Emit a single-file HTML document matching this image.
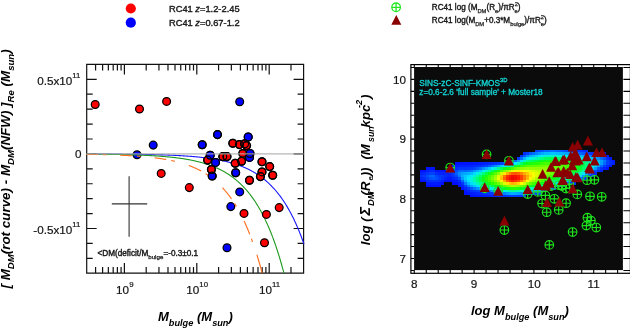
<!DOCTYPE html>
<html><head><meta charset="utf-8"><style>
html,body{margin:0;padding:0;background:#fff;}
svg{display:block;will-change:transform;filter:blur(0.35px);}
text{font-family:"Liberation Sans",sans-serif;}
text{stroke:#1a1a1a;stroke-width:0.2px;}
text.lg{stroke-width:0.4px;}
text.bi{stroke:none;}
tspan.s{stroke-width:0.25px;}
text.cy{stroke:#14d8d8;stroke-width:0.3px;}
.bi{font-weight:bold;font-style:italic;}
</style></head><body>
<svg width="630" height="328" viewBox="0 0 630 328">
<rect width="630" height="328" fill="#fff"/>

<circle cx="130.8" cy="8.5" r="5.1" fill="#ff0000"/>
<circle cx="130.8" cy="22.7" r="5.1" fill="#0000ff"/>
<text class="lg" x="169.0" y="11.6" font-size="9.3" fill="#222">RC41 <tspan font-style="italic">z</tspan>=1.2-2.45</text>
<text class="lg" x="169.0" y="25.6" font-size="9.3" fill="#222">RC41 <tspan font-style="italic">z</tspan>=0.67-1.2</text>
<g stroke="#22e822" stroke-width="1.3" fill="none"><circle cx="396.1" cy="7.3" r="4.3"/><path d="M391.8 7.3H400.4M396.1 3V11.6"/></g>
<path d="M396.3 15L401.3 24.8H391.3Z" fill="#8b0000"/>
<text class="lg" x="431.8" y="9.8" font-size="8.15" fill="#1a1a1a">RC41 log (M<tspan class="s" font-size="5.8" dy="2.8">DM</tspan><tspan dy="-2.8">(R</tspan><tspan class="s" font-size="5.8" dy="3">e</tspan><tspan dy="-3">)/πR</tspan><tspan class="s" font-size="5.8" dy="-3.6">2</tspan><tspan class="s" font-size="5.8" dx="-3.3" dy="6.8">e</tspan><tspan dy="-3.2">)</tspan></text>
<text class="lg" x="431.8" y="23.0" font-size="8.15" fill="#1a1a1a">RC41 log(M<tspan class="s" font-size="5.8" dy="2.8">DM</tspan><tspan dy="-2.8">+0.3*M</tspan><tspan class="s" font-size="5.8" dy="2.8">bulge</tspan><tspan dy="-2.8">)/πR</tspan><tspan class="s" font-size="5.8" dy="-3.6">2</tspan><tspan class="s" font-size="5.8" dx="-3.3" dy="6.8">e</tspan><tspan dy="-3.2">)</tspan></text>
<path d="M86.7 64.4H303.6V273.1H86.7Z M95.59 273.1v-6M95.59 64.4v6 M102.61 273.1v-6M102.61 64.4v6 M108.34 273.1v-6M108.34 64.4v6 M113.19 273.1v-6M113.19 64.4v6 M117.38 273.1v-6M117.38 64.4v6 M121.09 273.1v-6M121.09 64.4v6 M124.40 273.1v-10M124.40 64.4v10 M146.19 273.1v-6M146.19 64.4v6 M158.94 273.1v-6M158.94 64.4v6 M167.99 273.1v-6M167.99 64.4v6 M175.01 273.1v-6M175.01 64.4v6 M180.74 273.1v-6M180.74 64.4v6 M185.59 273.1v-6M185.59 64.4v6 M189.78 273.1v-6M189.78 64.4v6 M193.49 273.1v-6M193.49 64.4v6 M196.80 273.1v-10M196.80 64.4v10 M218.59 273.1v-6M218.59 64.4v6 M231.34 273.1v-6M231.34 64.4v6 M240.39 273.1v-6M240.39 64.4v6 M247.41 273.1v-6M247.41 64.4v6 M253.14 273.1v-6M253.14 64.4v6 M257.99 273.1v-6M257.99 64.4v6 M262.18 273.1v-6M262.18 64.4v6 M265.89 273.1v-6M265.89 64.4v6 M269.20 273.1v-10M269.20 64.4v10 M290.99 273.1v-6M290.99 64.4v6 M86.7 258.34h6M303.6 258.34h-6 M86.7 243.42h6M303.6 243.42h-6 M86.7 228.50h10M303.6 228.50h-10 M86.7 213.58h6M303.6 213.58h-6 M86.7 198.66h6M303.6 198.66h-6 M86.7 183.74h6M303.6 183.74h-6 M86.7 168.82h6M303.6 168.82h-6 M86.7 153.90h10M303.6 153.90h-10 M86.7 138.98h6M303.6 138.98h-6 M86.7 124.06h6M303.6 124.06h-6 M86.7 109.14h6M303.6 109.14h-6 M86.7 94.22h6M303.6 94.22h-6 M86.7 79.30h10M303.6 79.30h-10" fill="none" stroke="#111" stroke-width="1.2"/>
<g stroke="#000" stroke-width="1.25"><circle cx="239.7" cy="101.8" r="3.9" fill="#0000ff"/><circle cx="137.0" cy="154.8" r="3.9" fill="#0000ff"/><circle cx="153.2" cy="145.1" r="3.9" fill="#0000ff"/><circle cx="202.2" cy="144.8" r="3.9" fill="#0000ff"/><circle cx="217.5" cy="134.6" r="3.9" fill="#0000ff"/><circle cx="210.2" cy="155.3" r="3.9" fill="#0000ff"/><circle cx="215.5" cy="162.4" r="3.9" fill="#0000ff"/><circle cx="212.2" cy="176.0" r="3.9" fill="#0000ff"/><circle cx="248.2" cy="137.0" r="3.9" fill="#0000ff"/><circle cx="250.0" cy="153.5" r="3.9" fill="#0000ff"/><circle cx="249.5" cy="157.4" r="3.9" fill="#0000ff"/><circle cx="235.7" cy="172.7" r="3.9" fill="#0000ff"/><circle cx="239.7" cy="191.9" r="3.9" fill="#0000ff"/><circle cx="230.8" cy="206.6" r="3.9" fill="#0000ff"/><circle cx="227.0" cy="247.8" r="3.9" fill="#0000ff"/></g>
<path d="M86.03 153.99 L86.75 153.99 L87.48 153.99 L88.21 153.99 L88.93 154.00 L89.66 154.00 L90.39 154.00 L91.11 154.00 L91.84 154.01 L92.57 154.01 L93.29 154.01 L94.02 154.01 L94.74 154.02 L95.47 154.02 L96.20 154.02 L96.92 154.02 L97.65 154.03 L98.38 154.03 L99.10 154.03 L99.83 154.04 L100.56 154.04 L101.28 154.04 L102.01 154.05 L102.74 154.05 L103.46 154.05 L104.19 154.06 L104.91 154.06 L105.64 154.06 L106.37 154.07 L107.09 154.07 L107.82 154.08 L108.55 154.08 L109.27 154.08 L110.00 154.09 L110.73 154.09 L111.45 154.10 L112.18 154.10 L112.91 154.11 L113.63 154.11 L114.36 154.12 L115.08 154.12 L115.81 154.13 L116.54 154.13 L117.26 154.14 L117.99 154.14 L118.72 154.15 L119.44 154.15 L120.17 154.16 L120.90 154.17 L121.62 154.17 L122.35 154.18 L123.08 154.19 L123.80 154.19 L124.53 154.20 L125.25 154.21 L125.98 154.21 L126.71 154.22 L127.43 154.23 L128.16 154.24 L128.89 154.24 L129.61 154.25 L130.34 154.26 L131.07 154.27 L131.79 154.28 L132.52 154.29 L133.24 154.30 L133.97 154.30 L134.70 154.31 L135.42 154.32 L136.15 154.33 L136.88 154.34 L137.60 154.35 L138.33 154.36 L139.06 154.38 L139.78 154.39 L140.51 154.40 L141.24 154.41 L141.96 154.42 L142.69 154.43 L143.41 154.45 L144.14 154.46 L144.87 154.47 L145.59 154.49 L146.32 154.50 L147.05 154.51 L147.77 154.53 L148.50 154.54 L149.23 154.56 L149.95 154.57 L150.68 154.59 L151.41 154.60 L152.13 154.62 L152.86 154.64 L153.58 154.65 L154.31 154.67 L155.04 154.69 L155.76 154.71 L156.49 154.73 L157.22 154.75 L157.94 154.77 L158.67 154.79 L159.40 154.81 L160.12 154.83 L160.85 154.85 L161.57 154.87 L162.30 154.90 L163.03 154.92 L163.75 154.94 L164.48 154.97 L165.21 154.99 L165.93 155.02 L166.66 155.04 L167.39 155.07 L168.11 155.10 L168.84 155.13 L169.57 155.15 L170.29 155.18 L171.02 155.21 L171.74 155.25 L172.47 155.28 L173.20 155.31 L173.92 155.34 L174.65 155.38 L175.38 155.41 L176.10 155.45 L176.83 155.48 L177.56 155.52 L178.28 155.56 L179.01 155.59 L179.74 155.63 L180.46 155.67 L181.19 155.72 L181.91 155.76 L182.64 155.80 L183.37 155.85 L184.09 155.89 L184.82 155.94 L185.55 155.99 L186.27 156.04 L187.00 156.08 L187.73 156.14 L188.45 156.19 L189.18 156.24 L189.91 156.30 L190.63 156.35 L191.36 156.41 L192.08 156.47 L192.81 156.53 L193.54 156.59 L194.26 156.65 L194.99 156.72 L195.72 156.78 L196.44 156.85 L197.17 156.92 L197.90 156.99 L198.62 157.06 L199.35 157.14 L200.07 157.21 L200.80 157.29 L201.53 157.37 L202.25 157.45 L202.98 157.53 L203.71 157.62 L204.43 157.70 L205.16 157.79 L205.89 157.88 L206.61 157.98 L207.34 158.07 L208.07 158.17 L208.79 158.27 L209.52 158.37 L210.24 158.48 L210.97 158.58 L211.70 158.69 L212.42 158.80 L213.15 158.92 L213.88 159.04 L214.60 159.16 L215.33 159.28 L216.06 159.41 L216.78 159.53 L217.51 159.67 L218.24 159.80 L218.96 159.94 L219.69 160.08 L220.41 160.22 L221.14 160.37 L221.87 160.52 L222.59 160.68 L223.32 160.84 L224.05 161.00 L224.77 161.16 L225.50 161.33 L226.23 161.51 L226.95 161.69 L227.68 161.87 L228.41 162.05 L229.13 162.24 L229.86 162.44 L230.58 162.64 L231.31 162.84 L232.04 163.05 L232.76 163.27 L233.49 163.48 L234.22 163.71 L234.94 163.94 L235.67 164.17 L236.40 164.41 L237.12 164.66 L237.85 164.91 L238.57 165.17 L239.30 165.43 L240.03 165.70 L240.75 165.98 L241.48 166.26 L242.21 166.55 L242.93 166.84 L243.66 167.14 L244.39 167.45 L245.11 167.77 L245.84 168.09 L246.57 168.43 L247.29 168.77 L248.02 169.11 L248.74 169.47 L249.47 169.83 L250.20 170.21 L250.92 170.59 L251.65 170.98 L252.38 171.38 L253.10 171.78 L253.83 172.20 L254.56 172.63 L255.28 173.07 L256.01 173.52 L256.74 173.97 L257.46 174.44 L258.19 174.92 L258.91 175.41 L259.64 175.92 L260.37 176.43 L261.09 176.96 L261.82 177.50 L262.55 178.05 L263.27 178.61 L264.00 179.19 L264.73 179.78 L265.45 180.39 L266.18 181.01 L266.90 181.64 L267.63 182.29 L268.36 182.95 L269.08 183.63 L269.81 184.33 L270.54 185.04 L271.26 185.76 L271.99 186.51 L272.72 187.27 L273.44 188.05 L274.17 188.85 L274.90 189.67 L275.62 190.50 L276.35 191.36 L277.07 192.23 L277.80 193.13 L278.53 194.05 L279.25 194.98 L279.98 195.94 L280.71 196.93 L281.43 197.93 L282.16 198.96 L282.89 200.01 L283.61 201.09 L284.34 202.19 L285.07 203.32 L285.79 204.48 L286.52 205.66 L287.24 206.87 L287.97 208.11 L288.70 209.38 L289.42 210.67 L290.15 212.00 L290.88 213.36 L291.60 214.75 L292.33 216.17 L293.06 217.62 L293.78 219.11 L294.51 220.64 L295.24 222.20 L295.96 223.79 L296.69 225.43 L297.41 227.10 L298.14 228.81 L298.87 230.56 L299.59 232.35 L300.32 234.18 L301.05 236.06 L301.77 237.98 L302.50 239.95 L303.23 241.96 L303.95 244.02" fill="none" stroke="#1a1aff" stroke-width="1.1"/>
<path d="M86.03 154.12 L86.75 154.13 L87.48 154.13 L88.21 154.14 L88.93 154.14 L89.66 154.15 L90.39 154.15 L91.11 154.16 L91.84 154.16 L92.57 154.17 L93.29 154.18 L94.02 154.18 L94.74 154.19 L95.47 154.20 L96.20 154.20 L96.92 154.21 L97.65 154.22 L98.38 154.23 L99.10 154.23 L99.83 154.24 L100.56 154.25 L101.28 154.26 L102.01 154.27 L102.74 154.27 L103.46 154.28 L104.19 154.29 L104.91 154.30 L105.64 154.31 L106.37 154.32 L107.09 154.33 L107.82 154.34 L108.55 154.35 L109.27 154.36 L110.00 154.37 L110.73 154.38 L111.45 154.39 L112.18 154.41 L112.91 154.42 L113.63 154.43 L114.36 154.44 L115.08 154.45 L115.81 154.47 L116.54 154.48 L117.26 154.49 L117.99 154.51 L118.72 154.52 L119.44 154.54 L120.17 154.55 L120.90 154.57 L121.62 154.58 L122.35 154.60 L123.08 154.62 L123.80 154.63 L124.53 154.65 L125.25 154.67 L125.98 154.68 L126.71 154.70 L127.43 154.72 L128.16 154.74 L128.89 154.76 L129.61 154.78 L130.34 154.80 L131.07 154.82 L131.79 154.84 L132.52 154.87 L133.24 154.89 L133.97 154.91 L134.70 154.94 L135.42 154.96 L136.15 154.98 L136.88 155.01 L137.60 155.04 L138.33 155.06 L139.06 155.09 L139.78 155.12 L140.51 155.15 L141.24 155.17 L141.96 155.20 L142.69 155.23 L143.41 155.27 L144.14 155.30 L144.87 155.33 L145.59 155.36 L146.32 155.40 L147.05 155.43 L147.77 155.47 L148.50 155.51 L149.23 155.54 L149.95 155.58 L150.68 155.62 L151.41 155.66 L152.13 155.70 L152.86 155.74 L153.58 155.79 L154.31 155.83 L155.04 155.88 L155.76 155.92 L156.49 155.97 L157.22 156.02 L157.94 156.07 L158.67 156.12 L159.40 156.17 L160.12 156.22 L160.85 156.28 L161.57 156.33 L162.30 156.39 L163.03 156.45 L163.75 156.51 L164.48 156.57 L165.21 156.63 L165.93 156.70 L166.66 156.76 L167.39 156.83 L168.11 156.90 L168.84 156.97 L169.57 157.04 L170.29 157.11 L171.02 157.19 L171.74 157.26 L172.47 157.34 L173.20 157.42 L173.92 157.50 L174.65 157.59 L175.38 157.67 L176.10 157.76 L176.83 157.85 L177.56 157.95 L178.28 158.04 L179.01 158.14 L179.74 158.24 L180.46 158.34 L181.19 158.44 L181.91 158.55 L182.64 158.66 L183.37 158.77 L184.09 158.88 L184.82 159.00 L185.55 159.12 L186.27 159.24 L187.00 159.36 L187.73 159.49 L188.45 159.62 L189.18 159.75 L189.91 159.89 L190.63 160.03 L191.36 160.17 L192.08 160.32 L192.81 160.47 L193.54 160.62 L194.26 160.78 L194.99 160.94 L195.72 161.11 L196.44 161.28 L197.17 161.45 L197.90 161.62 L198.62 161.81 L199.35 161.99 L200.07 162.18 L200.80 162.37 L201.53 162.57 L202.25 162.77 L202.98 162.98 L203.71 163.19 L204.43 163.41 L205.16 163.63 L205.89 163.86 L206.61 164.09 L207.34 164.33 L208.07 164.57 L208.79 164.82 L209.52 165.08 L210.24 165.34 L210.97 165.61 L211.70 165.88 L212.42 166.16 L213.15 166.45 L213.88 166.74 L214.60 167.04 L215.33 167.35 L216.06 167.66 L216.78 167.98 L217.51 168.31 L218.24 168.65 L218.96 169.00 L219.69 169.35 L220.41 169.71 L221.14 170.08 L221.87 170.46 L222.59 170.84 L223.32 171.24 L224.05 171.64 L224.77 172.06 L225.50 172.48 L226.23 172.92 L226.95 173.36 L227.68 173.82 L228.41 174.28 L229.13 174.76 L229.86 175.25 L230.58 175.75 L231.31 176.26 L232.04 176.78 L232.76 177.31 L233.49 177.86 L234.22 178.42 L234.94 178.99 L235.67 179.58 L236.40 180.18 L237.12 180.80 L237.85 181.42 L238.57 182.07 L239.30 182.73 L240.03 183.40 L240.75 184.09 L241.48 184.79 L242.21 185.52 L242.93 186.25 L243.66 187.01 L244.39 187.78 L245.11 188.58 L245.84 189.39 L246.57 190.22 L247.29 191.07 L248.02 191.93 L248.74 192.82 L249.47 193.73 L250.20 194.66 L250.92 195.62 L251.65 196.59 L252.38 197.59 L253.10 198.61 L253.83 199.66 L254.56 200.72 L255.28 201.82 L256.01 202.94 L256.74 204.08 L257.46 205.26 L258.19 206.46 L258.91 207.69 L259.64 208.94 L260.37 210.23 L261.09 211.55 L261.82 212.89 L262.55 214.27 L263.27 215.68 L264.00 217.13 L264.73 218.61 L265.45 220.12 L266.18 221.67 L266.90 223.25 L267.63 224.87 L268.36 226.53 L269.08 228.23 L269.81 229.96 L270.54 231.74 L271.26 233.56 L271.99 235.42 L272.72 237.33 L273.44 239.28 L274.17 241.27 L274.90 243.31 L275.62 245.40 L276.35 247.54 L277.07 249.73 L277.80 251.97 L278.53 254.26 L279.25 256.61 L279.98 259.01 L280.71 261.47 L281.43 263.98 L282.16 266.55 L282.89 269.18 L283.61 271.88 L283.94 273.10" fill="none" stroke="#1e9a1e" stroke-width="1.1"/>
<path d="M86.46 154.35 L86.68 154.35 L86.90 154.35 L87.12 154.36 L87.34 154.36 L87.55 154.36 L87.77 154.37 L87.99 154.37 L88.21 154.37 L88.43 154.38 L88.64 154.38 L88.86 154.38 L89.08 154.39 L89.30 154.39 L89.51 154.39 L89.73 154.40 L89.95 154.40 L90.17 154.40 L90.39 154.41 L90.60 154.41 L90.82 154.41 L91.04 154.42 L91.26 154.42 L91.48 154.42 L91.69 154.43 L91.91 154.43 L92.13 154.43 L92.35 154.44 L92.57 154.44 L92.78 154.45 L93.00 154.45 L93.22 154.45 L93.44 154.46 L93.66 154.46 L93.87 154.47 L94.09 154.47 L94.31 154.47 L94.53 154.48 L94.74 154.48 L94.96 154.49 L95.18 154.49 L95.40 154.49 L95.62 154.50 L95.83 154.50 L96.05 154.51 L96.27 154.51 L96.49 154.51 L96.71 154.52 L96.92 154.52 L97.14 154.53 L97.36 154.53 L97.58 154.54 L97.80 154.54 L98.01 154.54 L98.16 154.55 M103.03 154.66 L103.24 154.66 L103.46 154.67 L103.68 154.67 L103.90 154.68 L104.12 154.68 L104.33 154.69 L104.55 154.69 L104.77 154.70 L104.99 154.70 L105.21 154.71 L105.42 154.72 L105.64 154.72 L105.86 154.73 L106.08 154.73 L106.29 154.74 L106.51 154.74 L106.66 154.75 M120.17 155.20 L120.39 155.21 L120.61 155.22 L120.82 155.23 L121.04 155.24 L121.26 155.25 L121.48 155.26 L121.69 155.27 L121.91 155.28 L122.13 155.29 L122.35 155.30 L122.57 155.31 L122.78 155.32 L123.00 155.33 L123.22 155.34 L123.44 155.35 L123.66 155.36 L123.87 155.37 L124.09 155.38 L124.31 155.39 L124.53 155.40 L124.75 155.41 L124.96 155.42 L125.18 155.43 L125.40 155.44 L125.62 155.45 L125.84 155.46 L126.05 155.47 L126.27 155.48 L126.49 155.49 L126.71 155.51 L126.93 155.52 L127.14 155.53 L127.36 155.54 L127.58 155.55 L127.80 155.56 L128.01 155.57 L128.23 155.59 L128.45 155.60 L128.67 155.61 L128.89 155.62 L129.10 155.63 L129.32 155.64 L129.54 155.66 L129.76 155.67 L129.98 155.68 L130.19 155.69 L130.41 155.71 L130.63 155.72 L130.85 155.73 L131.07 155.74 L131.28 155.76 L131.50 155.77 L131.72 155.78 L131.94 155.80 L131.94 155.80 M137.02 156.13 L137.24 156.14 L137.46 156.16 L137.68 156.18 L137.89 156.19 L138.11 156.21 L138.33 156.22 L138.55 156.24 L138.77 156.26 L138.98 156.27 L139.20 156.29 L139.42 156.31 L139.64 156.32 L139.86 156.34 L140.07 156.36 L140.29 156.37 L140.44 156.38 M154.82 157.83 L155.04 157.85 L155.26 157.88 L155.47 157.91 L155.69 157.94 L155.91 157.96 L156.13 157.99 L156.34 158.02 L156.56 158.05 L156.78 158.08 L157.00 158.11 L157.22 158.14 L157.43 158.17 L157.65 158.20 L157.87 158.23 L158.09 158.26 L158.31 158.29 L158.52 158.32 L158.74 158.35 L158.96 158.38 L159.18 158.41 L159.40 158.44 L159.61 158.47 L159.83 158.50 L160.05 158.54 L160.27 158.57 L160.49 158.60 L160.70 158.63 L160.92 158.67 L161.14 158.70 L161.36 158.73 L161.57 158.77 L161.79 158.80 L162.01 158.83 L162.23 158.87 L162.45 158.90 L162.66 158.94 L162.88 158.97 L163.10 159.01 L163.32 159.04 L163.54 159.08 L163.75 159.12 L163.97 159.15 L164.19 159.19 L164.41 159.23 L164.63 159.26 L164.84 159.30 L165.06 159.34 L165.28 159.38 L165.50 159.41 L165.72 159.45 L165.93 159.49 L166.15 159.53 L166.22 159.54 M171.24 160.52 L171.45 160.56 L171.67 160.61 L171.89 160.66 L172.11 160.70 L172.33 160.75 L172.54 160.80 L172.76 160.85 L172.98 160.89 L173.20 160.94 L173.42 160.99 L173.63 161.04 L173.85 161.09 L174.07 161.14 L174.29 161.19 L174.51 161.24 L174.72 161.29 L174.87 161.33 M188.82 165.47 L189.03 165.55 L189.25 165.64 L189.47 165.72 L189.69 165.80 L189.91 165.88 L190.12 165.97 L190.34 166.05 L190.56 166.13 L190.78 166.22 L190.99 166.30 L191.21 166.39 L191.43 166.48 L191.65 166.57 L191.87 166.65 L192.08 166.74 L192.30 166.83 L192.52 166.92 L192.74 167.01 L192.96 167.10 L193.17 167.19 L193.39 167.29 L193.61 167.38 L193.83 167.47 L194.05 167.57 L194.26 167.66 L194.48 167.76 L194.70 167.86 L194.92 167.95 L195.14 168.05 L195.35 168.15 L195.57 168.25 L195.79 168.35 L196.01 168.45 L196.22 168.55 L196.44 168.65 L196.66 168.75 L196.88 168.86 L197.10 168.96 L197.31 169.07 L197.53 169.17 L197.75 169.28 L197.97 169.38 L198.19 169.49 L198.40 169.60 L198.62 169.71 L198.84 169.82 L199.06 169.93 L199.28 170.04 L199.49 170.15 L199.71 170.27 L199.93 170.38 L200.15 170.50 L200.37 170.61 L200.58 170.73 L200.80 170.84 L201.02 170.96 L201.16 171.04 M205.60 173.64 L205.81 173.77 L206.03 173.91 L206.25 174.05 L206.47 174.19 L206.69 174.33 L206.90 174.47 L207.12 174.62 L207.34 174.76 L207.56 174.91 L207.77 175.05 L207.99 175.20 L208.21 175.35 L208.43 175.50 L208.65 175.65 L208.65 175.65 M222.45 187.63 L222.67 187.87 L222.88 188.10 L223.10 188.34 L223.32 188.58 L223.54 188.82 L223.76 189.06 L223.97 189.31 L224.19 189.55 L224.41 189.80 L224.63 190.05 L224.85 190.30 L225.06 190.56 L225.28 190.81 L225.50 191.07 L225.72 191.33 L225.94 191.59 L226.15 191.85 L226.37 192.11 L226.59 192.38 L226.81 192.65 L227.02 192.92 L227.24 193.19 L227.46 193.46 L227.68 193.74 L227.90 194.01 L228.11 194.29 L228.33 194.57 L228.55 194.86 L228.77 195.14 L228.99 195.43 L229.20 195.72 L229.42 196.01 L229.64 196.30 L229.86 196.59 L230.08 196.89 L230.29 197.19 L230.51 197.49 L230.73 197.79 L230.95 198.10 L231.17 198.41 L231.38 198.72 L231.53 198.92 M234.58 203.51 L234.80 203.86 L235.02 204.20 L235.23 204.55 L235.45 204.91 L235.67 205.26 L235.89 205.62 L236.10 205.98 L236.32 206.34 L236.40 206.46 M244.02 220.89 L244.24 221.36 L244.46 221.83 L244.68 222.30 L244.89 222.77 L245.11 223.25 L245.33 223.74 L245.55 224.22 L245.77 224.71 L245.98 225.20 L246.20 225.70 L246.42 226.20 L246.64 226.70 L246.86 227.21 L247.07 227.72 L247.29 228.23 L247.51 228.75 L247.73 229.27 L247.95 229.79 L248.16 230.32 L248.38 230.85 L248.60 231.39 L248.82 231.93 L249.04 232.47 L249.25 233.01 L249.47 233.57 L249.69 234.12 L249.76 234.30 M251.43 238.69 L251.65 239.28 L251.87 239.88 L252.09 240.47 L252.30 241.08 L252.52 241.68 L252.59 241.89 M256.88 254.73 L257.10 255.44 L257.32 256.14 L257.53 256.85 L257.75 257.57 L257.97 258.29 L258.19 259.02 L258.41 259.75 L258.62 260.48 L258.84 261.22 L259.06 261.97 L259.28 262.72 L259.50 263.48 L259.71 264.24 L259.93 265.01 L260.15 265.78 L260.37 266.56 L260.59 267.34 L260.80 268.13 L261.02 268.93 L261.24 269.73 L261.46 270.53 L261.67 271.34 L261.89 272.16 L262.11 272.98 L262.11 272.98" fill="none" stroke="#ff7020" stroke-width="1.15"/>
<g stroke="#000" stroke-width="1.25"><circle cx="95.2" cy="104.5" r="3.9" fill="#ff0000"/><circle cx="139.5" cy="109.0" r="3.9" fill="#ff0000"/><circle cx="166.6" cy="101.4" r="3.9" fill="#ff0000"/><circle cx="161.2" cy="173.4" r="3.9" fill="#ff0000"/><circle cx="189.3" cy="187.6" r="3.9" fill="#ff0000"/><circle cx="207.6" cy="160.1" r="3.9" fill="#ff0000"/><circle cx="211.4" cy="169.5" r="3.9" fill="#ff0000"/><circle cx="222.8" cy="156.6" r="3.9" fill="#ff0000"/><circle cx="227.0" cy="156.6" r="3.9" fill="#ff0000"/><circle cx="232.8" cy="143.3" r="3.9" fill="#ff0000"/><circle cx="239.4" cy="144.6" r="3.9" fill="#ff0000"/><circle cx="244.7" cy="143.8" r="3.9" fill="#ff0000"/><circle cx="246.6" cy="145.6" r="3.9" fill="#ff0000"/><circle cx="242.8" cy="153.4" r="3.9" fill="#ff0000"/><circle cx="241.6" cy="161.2" r="3.9" fill="#ff0000"/><circle cx="235.2" cy="163.3" r="3.9" fill="#ff0000"/><circle cx="262.0" cy="161.7" r="3.9" fill="#ff0000"/><circle cx="269.7" cy="166.6" r="3.9" fill="#ff0000"/><circle cx="262.0" cy="171.9" r="3.9" fill="#ff0000"/><circle cx="260.4" cy="176.6" r="3.9" fill="#ff0000"/><circle cx="272.7" cy="175.3" r="3.9" fill="#ff0000"/><circle cx="249.5" cy="180.3" r="3.9" fill="#ff0000"/><circle cx="244.0" cy="213.4" r="3.9" fill="#ff0000"/><circle cx="266.4" cy="214.4" r="3.9" fill="#ff0000"/><circle cx="279.2" cy="207.6" r="3.9" fill="#ff0000"/><circle cx="264.5" cy="242.7" r="3.9" fill="#ff0000"/></g>
<g stroke="none"><circle cx="249.5" cy="157.4" r="4.3" fill="#0000ff"/><circle cx="250" cy="153.5" r="4.3" fill="#0000ff"/><circle cx="210.2" cy="155.3" r="4.3" fill="#0000ff"/><circle cx="215.5" cy="162.4" r="4.3" fill="#0000ff"/><circle cx="248.2" cy="137" r="4.3" fill="#0000ff"/></g>
<g stroke="#000" stroke-width="1.25" fill="none"><circle cx="207.6" cy="160.1" r="3.9"/><circle cx="211.4" cy="169.5" r="3.9"/><circle cx="222.8" cy="156.6" r="3.9"/><circle cx="227.0" cy="156.6" r="3.9"/><circle cx="232.8" cy="143.3" r="3.9"/><circle cx="239.4" cy="144.6" r="3.9"/><circle cx="244.7" cy="143.8" r="3.9"/><circle cx="246.6" cy="145.6" r="3.9"/><circle cx="242.8" cy="153.4" r="3.9"/><circle cx="241.6" cy="161.2" r="3.9"/><circle cx="235.2" cy="163.3" r="3.9"/><circle cx="262.0" cy="161.7" r="3.9"/><circle cx="269.7" cy="166.6" r="3.9"/><circle cx="262.0" cy="171.9" r="3.9"/><circle cx="260.4" cy="176.6" r="3.9"/><circle cx="272.7" cy="175.3" r="3.9"/><circle cx="249.5" cy="180.3" r="3.9"/><circle cx="202.2" cy="144.8" r="3.9"/><circle cx="217.5" cy="134.6" r="3.9"/><circle cx="210.2" cy="155.3" r="3.9"/><circle cx="215.5" cy="162.4" r="3.9"/><circle cx="212.2" cy="176.0" r="3.9"/><circle cx="248.2" cy="137.0" r="3.9"/><circle cx="250.0" cy="153.5" r="3.9"/><circle cx="249.5" cy="157.4" r="3.9"/><circle cx="235.7" cy="172.7" r="3.9"/></g>
<line x1="86.7" y1="153.9" x2="303.6" y2="153.9" stroke="#a9a9a9" stroke-opacity="0.85" stroke-width="1.4"/>
<path d="M129.1 176.3V236.8M111.8 203.9H147.2" stroke="#333" stroke-width="1.1" fill="none"/>
<g font-size="11.7" fill="#111">
<text text-anchor="end" x="80.4" y="85">0.5x10<tspan font-size="7.8" dy="-7.2">11</tspan></text>
<text text-anchor="end" x="81.6" y="157.9">0</text>
<text text-anchor="end" x="80.4" y="233.9">-0.5x10<tspan font-size="7.8" dy="-7.2">11</tspan></text>
<text text-anchor="middle" x="124.8" y="293.6">10<tspan font-size="7.8" dy="-6.8">9</tspan></text>
<text text-anchor="middle" x="197.2" y="293.6">10<tspan font-size="7.8" dy="-6.8">10</tspan></text>
<text text-anchor="middle" x="269.6" y="293.6">10<tspan font-size="7.8" dy="-6.8">11</tspan></text>
</g>
<text class="lg" x="97.5" y="256.0" font-size="8.2" fill="#111">&lt;DM(deficit/M<tspan class="s" font-size="6.2" dy="2.8">bulge</tspan><tspan dy="-2.8">=-0.3±0.1</tspan></text>
<text class="bi" x="158.0" y="320.6" font-size="13" fill="#000">M<tspan font-size="9.2" dy="5.2">bulge</tspan><tspan dy="-5.2"> (M</tspan><tspan font-size="9.2" dy="5.2">sun</tspan><tspan dy="-5.2">)</tspan></text>
<text class="bi" transform="translate(9.5,288.5) rotate(-90)" font-size="13.4" fill="#000">[ M<tspan font-size="9.6" dy="4.6">DM</tspan><tspan dy="-4.6">(rot curve) - M</tspan><tspan font-size="9.6" dy="4.6">DM</tspan><tspan dy="-4.6">(NFW) ]</tspan><tspan font-size="9.6" dy="4.6">Re</tspan><tspan dy="-4.6">  (M</tspan><tspan font-size="9.6" dy="4.6">sun</tspan><tspan dy="-4.6">)</tspan></text>
<rect x="410.9" y="64.6" width="219.5" height="208.70000000000002" fill="#fff" stroke="#000" stroke-width="1.2"/>
<rect x="414.1" y="67.0" width="208.8" height="203.1" fill="#0b0b0b"/>
<g shape-rendering="crispEdges"><rect x="535.05" y="149.50" width="3.00" height="2.55" fill="#003eff"/><rect x="538.00" y="149.50" width="3.00" height="2.55" fill="#004aff"/><rect x="540.95" y="149.50" width="3.00" height="2.55" fill="#005aff"/><rect x="543.90" y="149.50" width="5.95" height="2.55" fill="#0068ff"/><rect x="549.80" y="149.50" width="3.00" height="2.55" fill="#0070ff"/><rect x="552.75" y="149.50" width="3.00" height="2.55" fill="#006eff"/><rect x="555.70" y="149.50" width="3.00" height="2.55" fill="#0066ff"/><rect x="558.65" y="149.50" width="3.00" height="2.55" fill="#005eff"/><rect x="561.60" y="149.50" width="3.00" height="2.55" fill="#0056ff"/><rect x="564.55" y="149.50" width="3.00" height="2.55" fill="#004dff"/><rect x="567.50" y="149.50" width="3.00" height="2.55" fill="#0045ff"/><rect x="570.45" y="149.50" width="3.00" height="2.55" fill="#003fff"/><rect x="573.40" y="149.50" width="3.00" height="2.55" fill="#003bff"/><rect x="576.35" y="149.50" width="3.00" height="2.55" fill="#0037ff"/><rect x="579.30" y="149.50" width="3.00" height="2.55" fill="#0032ff"/><rect x="582.25" y="149.50" width="3.00" height="2.55" fill="#002dff"/><rect x="585.20" y="149.50" width="3.00" height="2.55" fill="#0028ff"/><rect x="523.25" y="152.00" width="3.00" height="2.55" fill="#002dff"/><rect x="526.20" y="152.00" width="3.00" height="2.55" fill="#003fff"/><rect x="529.15" y="152.00" width="3.00" height="2.55" fill="#0058ff"/><rect x="532.10" y="152.00" width="3.00" height="2.55" fill="#006bff"/><rect x="535.05" y="152.00" width="3.00" height="2.55" fill="#0081ff"/><rect x="538.00" y="152.00" width="3.00" height="2.55" fill="#0097ff"/><rect x="540.95" y="152.00" width="3.00" height="2.55" fill="#00abff"/><rect x="543.90" y="152.00" width="3.00" height="2.55" fill="#00baff"/><rect x="546.85" y="152.00" width="3.00" height="2.55" fill="#00bbff"/><rect x="549.80" y="152.00" width="3.00" height="2.55" fill="#00c3ff"/><rect x="552.75" y="152.00" width="3.00" height="2.55" fill="#00c2ff"/><rect x="555.70" y="152.00" width="3.00" height="2.55" fill="#00bbff"/><rect x="558.65" y="152.00" width="3.00" height="2.55" fill="#00b5ff"/><rect x="561.60" y="152.00" width="3.00" height="2.55" fill="#00aeff"/><rect x="564.55" y="152.00" width="3.00" height="2.55" fill="#00a7ff"/><rect x="567.50" y="152.00" width="3.00" height="2.55" fill="#009cff"/><rect x="570.45" y="152.00" width="3.00" height="2.55" fill="#0090ff"/><rect x="573.40" y="152.00" width="3.00" height="2.55" fill="#0084ff"/><rect x="576.35" y="152.00" width="3.00" height="2.55" fill="#0073ff"/><rect x="579.30" y="152.00" width="3.00" height="2.55" fill="#0064ff"/><rect x="582.25" y="152.00" width="3.00" height="2.55" fill="#0056ff"/><rect x="585.20" y="152.00" width="3.00" height="2.55" fill="#0044ff"/><rect x="588.15" y="152.00" width="3.00" height="2.55" fill="#0039ff"/><rect x="591.10" y="152.00" width="3.00" height="2.55" fill="#0031ff"/><rect x="594.05" y="152.00" width="3.00" height="2.55" fill="#0029ff"/><rect x="597.00" y="152.00" width="3.00" height="2.55" fill="#0023ff"/><rect x="599.95" y="152.00" width="3.00" height="2.55" fill="#001eff"/><rect x="602.90" y="152.00" width="3.00" height="2.55" fill="#0017ff"/><rect x="520.30" y="154.50" width="3.00" height="2.55" fill="#0033ff"/><rect x="523.25" y="154.50" width="3.00" height="2.55" fill="#0056ff"/><rect x="526.20" y="154.50" width="3.00" height="2.55" fill="#008cff"/><rect x="529.15" y="154.50" width="3.00" height="2.55" fill="#00adff"/><rect x="532.10" y="154.50" width="3.00" height="2.55" fill="#00beff"/><rect x="535.05" y="154.50" width="3.00" height="2.55" fill="#00d2ff"/><rect x="538.00" y="154.50" width="3.00" height="2.55" fill="#00e5ff"/><rect x="540.95" y="154.50" width="3.00" height="2.55" fill="#00eeed"/><rect x="543.90" y="154.50" width="3.00" height="2.55" fill="#00f3d5"/><rect x="546.85" y="154.50" width="3.00" height="2.55" fill="#00f4d1"/><rect x="549.80" y="154.50" width="3.00" height="2.55" fill="#00f6c5"/><rect x="552.75" y="154.50" width="3.00" height="2.55" fill="#00f6c7"/><rect x="555.70" y="154.50" width="3.00" height="2.55" fill="#00f4d0"/><rect x="558.65" y="154.50" width="3.00" height="2.55" fill="#00f2da"/><rect x="561.60" y="154.50" width="3.00" height="2.55" fill="#00f1e2"/><rect x="564.55" y="154.50" width="3.00" height="2.55" fill="#00efec"/><rect x="567.50" y="154.50" width="3.00" height="2.55" fill="#00ecf9"/><rect x="570.45" y="154.50" width="3.00" height="2.55" fill="#00e5ff"/><rect x="573.40" y="154.50" width="3.00" height="2.55" fill="#00daff"/><rect x="576.35" y="154.50" width="3.00" height="2.55" fill="#00c9ff"/><rect x="579.30" y="154.50" width="3.00" height="2.55" fill="#00baff"/><rect x="582.25" y="154.50" width="3.00" height="2.55" fill="#00aeff"/><rect x="585.20" y="154.50" width="3.00" height="2.55" fill="#009bff"/><rect x="588.15" y="154.50" width="3.00" height="2.55" fill="#0080ff"/><rect x="591.10" y="154.50" width="3.00" height="2.55" fill="#0068ff"/><rect x="594.05" y="154.50" width="3.00" height="2.55" fill="#0050ff"/><rect x="597.00" y="154.50" width="3.00" height="2.55" fill="#003fff"/><rect x="599.95" y="154.50" width="3.00" height="2.55" fill="#0036ff"/><rect x="602.90" y="154.50" width="3.00" height="2.55" fill="#002cff"/><rect x="605.85" y="154.50" width="3.00" height="2.55" fill="#0017ff"/><rect x="517.35" y="157.00" width="3.00" height="2.55" fill="#003cff"/><rect x="520.30" y="157.00" width="3.00" height="2.55" fill="#0076ff"/><rect x="523.25" y="157.00" width="3.00" height="2.55" fill="#00b6ff"/><rect x="526.20" y="157.00" width="3.00" height="2.55" fill="#00e5ff"/><rect x="529.15" y="157.00" width="3.00" height="2.55" fill="#00f0e3"/><rect x="532.10" y="157.00" width="3.00" height="2.55" fill="#00f5cc"/><rect x="535.05" y="157.00" width="3.00" height="2.55" fill="#00fab1"/><rect x="538.00" y="157.00" width="3.00" height="2.55" fill="#00ff97"/><rect x="540.95" y="157.00" width="3.00" height="2.55" fill="#00ff7d"/><rect x="543.90" y="157.00" width="3.00" height="2.55" fill="#00ff63"/><rect x="546.85" y="157.00" width="3.00" height="2.55" fill="#00ff5e"/><rect x="549.80" y="157.00" width="3.00" height="2.55" fill="#00ff53"/><rect x="552.75" y="157.00" width="3.00" height="2.55" fill="#00ff55"/><rect x="555.70" y="157.00" width="3.00" height="2.55" fill="#00ff5f"/><rect x="558.65" y="157.00" width="3.00" height="2.55" fill="#00ff68"/><rect x="561.60" y="157.00" width="3.00" height="2.55" fill="#00ff70"/><rect x="564.55" y="157.00" width="3.00" height="2.55" fill="#00ff7a"/><rect x="567.50" y="157.00" width="3.00" height="2.55" fill="#00ff88"/><rect x="570.45" y="157.00" width="3.00" height="2.55" fill="#00ff97"/><rect x="573.40" y="157.00" width="3.00" height="2.55" fill="#00fca8"/><rect x="576.35" y="157.00" width="3.00" height="2.55" fill="#00f6c3"/><rect x="579.30" y="157.00" width="3.00" height="2.55" fill="#00f2db"/><rect x="582.25" y="157.00" width="3.00" height="2.55" fill="#00eeed"/><rect x="585.20" y="157.00" width="3.00" height="2.55" fill="#00e6ff"/><rect x="588.15" y="157.00" width="3.00" height="2.55" fill="#00d0ff"/><rect x="591.10" y="157.00" width="3.00" height="2.55" fill="#00bbff"/><rect x="594.05" y="157.00" width="3.00" height="2.55" fill="#00a6ff"/><rect x="597.00" y="157.00" width="3.00" height="2.55" fill="#008bff"/><rect x="599.95" y="157.00" width="3.00" height="2.55" fill="#006fff"/><rect x="602.90" y="157.00" width="3.00" height="2.55" fill="#004eff"/><rect x="605.85" y="157.00" width="3.00" height="2.55" fill="#002dff"/><rect x="608.80" y="157.00" width="3.00" height="2.55" fill="#0016ff"/><rect x="511.45" y="159.50" width="3.00" height="2.55" fill="#0034ff"/><rect x="514.40" y="159.50" width="3.00" height="2.55" fill="#006dff"/><rect x="517.35" y="159.50" width="3.00" height="2.55" fill="#00a6ff"/><rect x="520.30" y="159.50" width="3.00" height="2.55" fill="#00e3ff"/><rect x="523.25" y="159.50" width="3.00" height="2.55" fill="#00f6c3"/><rect x="526.20" y="159.50" width="3.00" height="2.55" fill="#00ff87"/><rect x="529.15" y="159.50" width="3.00" height="2.55" fill="#00ff67"/><rect x="532.10" y="159.50" width="3.00" height="2.55" fill="#00ff54"/><rect x="535.05" y="159.50" width="3.00" height="2.55" fill="#00ff3c"/><rect x="538.00" y="159.50" width="3.00" height="2.55" fill="#01ff27"/><rect x="540.95" y="159.50" width="3.00" height="2.55" fill="#0bff1d"/><rect x="543.90" y="159.50" width="3.00" height="2.55" fill="#15ff13"/><rect x="546.85" y="159.50" width="3.00" height="2.55" fill="#17ff11"/><rect x="549.80" y="159.50" width="3.00" height="2.55" fill="#1aff0e"/><rect x="552.75" y="159.50" width="3.00" height="2.55" fill="#19ff0f"/><rect x="555.70" y="159.50" width="3.00" height="2.55" fill="#15ff13"/><rect x="558.65" y="159.50" width="3.00" height="2.55" fill="#10ff18"/><rect x="561.60" y="159.50" width="3.00" height="2.55" fill="#0dff1b"/><rect x="564.55" y="159.50" width="3.00" height="2.55" fill="#09ff1f"/><rect x="567.50" y="159.50" width="3.00" height="2.55" fill="#02ff26"/><rect x="570.45" y="159.50" width="3.00" height="2.55" fill="#00ff34"/><rect x="573.40" y="159.50" width="3.00" height="2.55" fill="#00ff47"/><rect x="576.35" y="159.50" width="3.00" height="2.55" fill="#00ff64"/><rect x="579.30" y="159.50" width="3.00" height="2.55" fill="#00ff80"/><rect x="582.25" y="159.50" width="3.00" height="2.55" fill="#00ff95"/><rect x="585.20" y="159.50" width="3.00" height="2.55" fill="#00fab3"/><rect x="588.15" y="159.50" width="3.00" height="2.55" fill="#00f3d4"/><rect x="591.10" y="159.50" width="3.00" height="2.55" fill="#00edf3"/><rect x="594.05" y="159.50" width="3.00" height="2.55" fill="#00daff"/><rect x="597.00" y="159.50" width="3.00" height="2.55" fill="#00bfff"/><rect x="599.95" y="159.50" width="3.00" height="2.55" fill="#00a2ff"/><rect x="602.90" y="159.50" width="3.00" height="2.55" fill="#0077ff"/><rect x="605.85" y="159.50" width="3.00" height="2.55" fill="#0046ff"/><rect x="608.80" y="159.50" width="3.00" height="2.55" fill="#002fff"/><rect x="611.75" y="159.50" width="3.00" height="2.55" fill="#0019ff"/><rect x="455.40" y="162.00" width="3.00" height="2.55" fill="#000fff"/><rect x="458.35" y="162.00" width="3.00" height="2.55" fill="#0012ff"/><rect x="461.30" y="162.00" width="3.00" height="2.55" fill="#0013ff"/><rect x="464.25" y="162.00" width="3.00" height="2.55" fill="#0014ff"/><rect x="467.20" y="162.00" width="3.00" height="2.55" fill="#0015ff"/><rect x="470.15" y="162.00" width="3.00" height="2.55" fill="#0016ff"/><rect x="473.10" y="162.00" width="3.00" height="2.55" fill="#0018ff"/><rect x="476.05" y="162.00" width="3.00" height="2.55" fill="#001aff"/><rect x="479.00" y="162.00" width="3.00" height="2.55" fill="#001dff"/><rect x="481.95" y="162.00" width="3.00" height="2.55" fill="#0020ff"/><rect x="484.90" y="162.00" width="3.00" height="2.55" fill="#0024ff"/><rect x="487.85" y="162.00" width="3.00" height="2.55" fill="#0028ff"/><rect x="490.80" y="162.00" width="3.00" height="2.55" fill="#002dff"/><rect x="493.75" y="162.00" width="3.00" height="2.55" fill="#0033ff"/><rect x="496.70" y="162.00" width="3.00" height="2.55" fill="#0039ff"/><rect x="499.65" y="162.00" width="3.00" height="2.55" fill="#0043ff"/><rect x="502.60" y="162.00" width="3.00" height="2.55" fill="#0058ff"/><rect x="505.55" y="162.00" width="3.00" height="2.55" fill="#006aff"/><rect x="508.50" y="162.00" width="3.00" height="2.55" fill="#0078ff"/><rect x="511.45" y="162.00" width="3.00" height="2.55" fill="#00a5ff"/><rect x="514.40" y="162.00" width="3.00" height="2.55" fill="#00edf5"/><rect x="517.35" y="162.00" width="3.00" height="2.55" fill="#00f9b8"/><rect x="520.30" y="162.00" width="3.00" height="2.55" fill="#00ff6a"/><rect x="523.25" y="162.00" width="3.00" height="2.55" fill="#00ff2e"/><rect x="526.20" y="162.00" width="3.00" height="2.55" fill="#10ff18"/><rect x="529.15" y="162.00" width="3.00" height="2.55" fill="#1aff0e"/><rect x="532.10" y="162.00" width="3.00" height="2.55" fill="#1fff09"/><rect x="535.05" y="162.00" width="3.00" height="2.55" fill="#27ff01"/><rect x="538.00" y="162.00" width="3.00" height="2.55" fill="#2fff00"/><rect x="540.95" y="162.00" width="3.00" height="2.55" fill="#3aff00"/><rect x="543.90" y="162.00" width="3.00" height="2.55" fill="#45ff00"/><rect x="546.85" y="162.00" width="3.00" height="2.55" fill="#46ff00"/><rect x="549.80" y="162.00" width="3.00" height="2.55" fill="#48ff00"/><rect x="552.75" y="162.00" width="3.00" height="2.55" fill="#44ff00"/><rect x="555.70" y="162.00" width="3.00" height="2.55" fill="#3eff00"/><rect x="558.65" y="162.00" width="3.00" height="2.55" fill="#37ff00"/><rect x="561.60" y="162.00" width="3.00" height="2.55" fill="#31ff00"/><rect x="564.55" y="162.00" width="3.00" height="2.55" fill="#2aff00"/><rect x="567.50" y="162.00" width="3.00" height="2.55" fill="#21ff07"/><rect x="570.45" y="162.00" width="3.00" height="2.55" fill="#19ff0f"/><rect x="573.40" y="162.00" width="3.00" height="2.55" fill="#11ff17"/><rect x="576.35" y="162.00" width="3.00" height="2.55" fill="#04ff24"/><rect x="579.30" y="162.00" width="3.00" height="2.55" fill="#00ff40"/><rect x="582.25" y="162.00" width="3.00" height="2.55" fill="#00ff5e"/><rect x="585.20" y="162.00" width="3.00" height="2.55" fill="#00ff81"/><rect x="588.15" y="162.00" width="3.00" height="2.55" fill="#00fba9"/><rect x="591.10" y="162.00" width="3.00" height="2.55" fill="#00f4d2"/><rect x="594.05" y="162.00" width="3.00" height="2.55" fill="#00ecfc"/><rect x="597.00" y="162.00" width="3.00" height="2.55" fill="#00c7ff"/><rect x="599.95" y="162.00" width="3.00" height="2.55" fill="#009eff"/><rect x="602.90" y="162.00" width="3.00" height="2.55" fill="#006bff"/><rect x="605.85" y="162.00" width="3.00" height="2.55" fill="#0040ff"/><rect x="608.80" y="162.00" width="3.00" height="2.55" fill="#002fff"/><rect x="611.75" y="162.00" width="3.00" height="2.55" fill="#0020ff"/><rect x="449.50" y="164.50" width="3.00" height="2.55" fill="#000cff"/><rect x="452.45" y="164.50" width="3.00" height="2.55" fill="#0011ff"/><rect x="455.40" y="164.50" width="3.00" height="2.55" fill="#001aff"/><rect x="458.35" y="164.50" width="8.90" height="2.55" fill="#0020ff"/><rect x="467.20" y="164.50" width="3.00" height="2.55" fill="#0022ff"/><rect x="470.15" y="164.50" width="3.00" height="2.55" fill="#0024ff"/><rect x="473.10" y="164.50" width="3.00" height="2.55" fill="#0028ff"/><rect x="476.05" y="164.50" width="3.00" height="2.55" fill="#002dff"/><rect x="479.00" y="164.50" width="3.00" height="2.55" fill="#0032ff"/><rect x="481.95" y="164.50" width="3.00" height="2.55" fill="#003aff"/><rect x="484.90" y="164.50" width="3.00" height="2.55" fill="#0043ff"/><rect x="487.85" y="164.50" width="3.00" height="2.55" fill="#0059ff"/><rect x="490.80" y="164.50" width="3.00" height="2.55" fill="#0074ff"/><rect x="493.75" y="164.50" width="3.00" height="2.55" fill="#0090ff"/><rect x="496.70" y="164.50" width="3.00" height="2.55" fill="#00afff"/><rect x="499.65" y="164.50" width="3.00" height="2.55" fill="#00cdff"/><rect x="502.60" y="164.50" width="3.00" height="2.55" fill="#00ebff"/><rect x="505.55" y="164.50" width="3.00" height="2.55" fill="#00f1df"/><rect x="508.50" y="164.50" width="3.00" height="2.55" fill="#00f5c8"/><rect x="511.45" y="164.50" width="3.00" height="2.55" fill="#00ff8f"/><rect x="514.40" y="164.50" width="3.00" height="2.55" fill="#00ff28"/><rect x="517.35" y="164.50" width="3.00" height="2.55" fill="#14ff14"/><rect x="520.30" y="164.50" width="3.00" height="2.55" fill="#2eff00"/><rect x="523.25" y="164.50" width="3.00" height="2.55" fill="#42ff00"/><rect x="526.20" y="164.50" width="3.00" height="2.55" fill="#53ff00"/><rect x="529.15" y="164.50" width="3.00" height="2.55" fill="#59ff00"/><rect x="532.10" y="164.50" width="3.00" height="2.55" fill="#5bff00"/><rect x="535.05" y="164.50" width="3.00" height="2.55" fill="#62ff00"/><rect x="538.00" y="164.50" width="3.00" height="2.55" fill="#66ff00"/><rect x="540.95" y="164.50" width="3.00" height="2.55" fill="#6dff00"/><rect x="543.90" y="164.50" width="3.00" height="2.55" fill="#72ff00"/><rect x="546.85" y="164.50" width="3.00" height="2.55" fill="#71ff00"/><rect x="549.80" y="164.50" width="3.00" height="2.55" fill="#6fff00"/><rect x="552.75" y="164.50" width="3.00" height="2.55" fill="#68ff00"/><rect x="555.70" y="164.50" width="3.00" height="2.55" fill="#5fff00"/><rect x="558.65" y="164.50" width="3.00" height="2.55" fill="#57ff00"/><rect x="561.60" y="164.50" width="3.00" height="2.55" fill="#4eff00"/><rect x="564.55" y="164.50" width="3.00" height="2.55" fill="#43ff00"/><rect x="567.50" y="164.50" width="3.00" height="2.55" fill="#37ff00"/><rect x="570.45" y="164.50" width="3.00" height="2.55" fill="#2bff00"/><rect x="573.40" y="164.50" width="3.00" height="2.55" fill="#20ff08"/><rect x="576.35" y="164.50" width="3.00" height="2.55" fill="#11ff17"/><rect x="579.30" y="164.50" width="3.00" height="2.55" fill="#02ff26"/><rect x="582.25" y="164.50" width="3.00" height="2.55" fill="#00ff4d"/><rect x="585.20" y="164.50" width="3.00" height="2.55" fill="#00ff7b"/><rect x="588.15" y="164.50" width="3.00" height="2.55" fill="#00faae"/><rect x="591.10" y="164.50" width="3.00" height="2.55" fill="#00f0e3"/><rect x="594.05" y="164.50" width="3.00" height="2.55" fill="#00d6ff"/><rect x="597.00" y="164.50" width="3.00" height="2.55" fill="#00a6ff"/><rect x="599.95" y="164.50" width="3.00" height="2.55" fill="#0067ff"/><rect x="602.90" y="164.50" width="3.00" height="2.55" fill="#003bff"/><rect x="605.85" y="164.50" width="3.00" height="2.55" fill="#0028ff"/><rect x="608.80" y="164.50" width="3.00" height="2.55" fill="#0017ff"/><rect x="425.90" y="167.00" width="3.00" height="2.55" fill="#0012ff"/><rect x="428.85" y="167.00" width="5.95" height="2.55" fill="#0014ff"/><rect x="446.55" y="167.00" width="3.00" height="2.55" fill="#000eff"/><rect x="449.50" y="167.00" width="3.00" height="2.55" fill="#0013ff"/><rect x="452.45" y="167.00" width="3.00" height="2.55" fill="#001eff"/><rect x="455.40" y="167.00" width="3.00" height="2.55" fill="#002eff"/><rect x="458.35" y="167.00" width="3.00" height="2.55" fill="#0037ff"/><rect x="461.30" y="167.00" width="3.00" height="2.55" fill="#0036ff"/><rect x="464.25" y="167.00" width="3.00" height="2.55" fill="#0035ff"/><rect x="467.20" y="167.00" width="3.00" height="2.55" fill="#0037ff"/><rect x="470.15" y="167.00" width="3.00" height="2.55" fill="#003bff"/><rect x="473.10" y="167.00" width="3.00" height="2.55" fill="#0044ff"/><rect x="476.05" y="167.00" width="3.00" height="2.55" fill="#0058ff"/><rect x="479.00" y="167.00" width="3.00" height="2.55" fill="#006fff"/><rect x="481.95" y="167.00" width="3.00" height="2.55" fill="#0090ff"/><rect x="484.90" y="167.00" width="3.00" height="2.55" fill="#00afff"/><rect x="487.85" y="167.00" width="3.00" height="2.55" fill="#00ccff"/><rect x="490.80" y="167.00" width="3.00" height="2.55" fill="#00ecf8"/><rect x="493.75" y="167.00" width="3.00" height="2.55" fill="#00f5cb"/><rect x="496.70" y="167.00" width="3.00" height="2.55" fill="#00ff93"/><rect x="499.65" y="167.00" width="3.00" height="2.55" fill="#00ff57"/><rect x="502.60" y="167.00" width="3.00" height="2.55" fill="#04ff24"/><rect x="505.55" y="167.00" width="3.00" height="2.55" fill="#16ff12"/><rect x="508.50" y="167.00" width="3.00" height="2.55" fill="#23ff05"/><rect x="511.45" y="167.00" width="3.00" height="2.55" fill="#3fff00"/><rect x="514.40" y="167.00" width="3.00" height="2.55" fill="#6dff00"/><rect x="517.35" y="167.00" width="3.00" height="2.55" fill="#7fff00"/><rect x="520.30" y="167.00" width="3.00" height="2.55" fill="#92ff00"/><rect x="523.25" y="167.00" width="3.00" height="2.55" fill="#99ff00"/><rect x="526.20" y="167.00" width="3.00" height="2.55" fill="#a0ff00"/><rect x="529.15" y="167.00" width="3.00" height="2.55" fill="#9bff00"/><rect x="532.10" y="167.00" width="3.00" height="2.55" fill="#96ff00"/><rect x="535.05" y="167.00" width="3.00" height="2.55" fill="#97ff00"/><rect x="538.00" y="167.00" width="5.95" height="2.55" fill="#95ff00"/><rect x="543.90" y="167.00" width="3.00" height="2.55" fill="#92ff00"/><rect x="546.85" y="167.00" width="3.00" height="2.55" fill="#8bff00"/><rect x="549.80" y="167.00" width="3.00" height="2.55" fill="#83ff00"/><rect x="552.75" y="167.00" width="3.00" height="2.55" fill="#79ff00"/><rect x="555.70" y="167.00" width="3.00" height="2.55" fill="#6eff00"/><rect x="558.65" y="167.00" width="3.00" height="2.55" fill="#63ff00"/><rect x="561.60" y="167.00" width="3.00" height="2.55" fill="#55ff00"/><rect x="564.55" y="167.00" width="3.00" height="2.55" fill="#47ff00"/><rect x="567.50" y="167.00" width="3.00" height="2.55" fill="#39ff00"/><rect x="570.45" y="167.00" width="3.00" height="2.55" fill="#2aff00"/><rect x="573.40" y="167.00" width="3.00" height="2.55" fill="#1fff09"/><rect x="576.35" y="167.00" width="3.00" height="2.55" fill="#0fff19"/><rect x="579.30" y="167.00" width="3.00" height="2.55" fill="#00ff2f"/><rect x="582.25" y="167.00" width="3.00" height="2.55" fill="#00ff67"/><rect x="585.20" y="167.00" width="3.00" height="2.55" fill="#00fda1"/><rect x="588.15" y="167.00" width="3.00" height="2.55" fill="#00f0e2"/><rect x="591.10" y="167.00" width="3.00" height="2.55" fill="#00d1ff"/><rect x="594.05" y="167.00" width="3.00" height="2.55" fill="#009eff"/><rect x="597.00" y="167.00" width="3.00" height="2.55" fill="#0059ff"/><rect x="599.95" y="167.00" width="3.00" height="2.55" fill="#0033ff"/><rect x="602.90" y="167.00" width="3.00" height="2.55" fill="#0022ff"/><rect x="605.85" y="167.00" width="3.00" height="2.55" fill="#0014ff"/><rect x="420.00" y="169.50" width="3.00" height="2.55" fill="#0010ff"/><rect x="422.95" y="169.50" width="3.00" height="2.55" fill="#0012ff"/><rect x="425.90" y="169.50" width="3.00" height="2.55" fill="#0021ff"/><rect x="428.85" y="169.50" width="5.95" height="2.55" fill="#0026ff"/><rect x="434.75" y="169.50" width="3.00" height="2.55" fill="#0015ff"/><rect x="437.70" y="169.50" width="3.00" height="2.55" fill="#0013ff"/><rect x="440.65" y="169.50" width="3.00" height="2.55" fill="#0012ff"/><rect x="443.60" y="169.50" width="3.00" height="2.55" fill="#0013ff"/><rect x="446.55" y="169.50" width="3.00" height="2.55" fill="#0018ff"/><rect x="449.50" y="169.50" width="3.00" height="2.55" fill="#001eff"/><rect x="452.45" y="169.50" width="3.00" height="2.55" fill="#0030ff"/><rect x="455.40" y="169.50" width="3.00" height="2.55" fill="#004aff"/><rect x="458.35" y="169.50" width="3.00" height="2.55" fill="#0067ff"/><rect x="461.30" y="169.50" width="3.00" height="2.55" fill="#0069ff"/><rect x="464.25" y="169.50" width="3.00" height="2.55" fill="#0067ff"/><rect x="467.20" y="169.50" width="3.00" height="2.55" fill="#006eff"/><rect x="470.15" y="169.50" width="3.00" height="2.55" fill="#0079ff"/><rect x="473.10" y="169.50" width="3.00" height="2.55" fill="#0097ff"/><rect x="476.05" y="169.50" width="3.00" height="2.55" fill="#00b2ff"/><rect x="479.00" y="169.50" width="3.00" height="2.55" fill="#00ccff"/><rect x="481.95" y="169.50" width="3.00" height="2.55" fill="#00edf7"/><rect x="484.90" y="169.50" width="3.00" height="2.55" fill="#00f6c7"/><rect x="487.85" y="169.50" width="3.00" height="2.55" fill="#00ff8e"/><rect x="490.80" y="169.50" width="3.00" height="2.55" fill="#00ff51"/><rect x="493.75" y="169.50" width="3.00" height="2.55" fill="#08ff20"/><rect x="496.70" y="169.50" width="3.00" height="2.55" fill="#25ff03"/><rect x="499.65" y="169.50" width="3.00" height="2.55" fill="#51ff00"/><rect x="502.60" y="169.50" width="3.00" height="2.55" fill="#7bff00"/><rect x="505.55" y="169.50" width="3.00" height="2.55" fill="#a1ff00"/><rect x="508.50" y="169.50" width="3.00" height="2.55" fill="#bfff00"/><rect x="511.45" y="169.50" width="3.00" height="2.55" fill="#e5ff00"/><rect x="514.40" y="169.50" width="3.00" height="2.55" fill="#fff300"/><rect x="517.35" y="169.50" width="3.00" height="2.55" fill="#ffee00"/><rect x="520.30" y="169.50" width="3.00" height="2.55" fill="#ffef00"/><rect x="523.25" y="169.50" width="3.00" height="2.55" fill="#fffe00"/><rect x="526.20" y="169.50" width="3.00" height="2.55" fill="#f4ff00"/><rect x="529.15" y="169.50" width="3.00" height="2.55" fill="#e0ff00"/><rect x="532.10" y="169.50" width="3.00" height="2.55" fill="#d0ff00"/><rect x="535.05" y="169.50" width="3.00" height="2.55" fill="#c8ff00"/><rect x="538.00" y="169.50" width="3.00" height="2.55" fill="#bdff00"/><rect x="540.95" y="169.50" width="3.00" height="2.55" fill="#b0ff00"/><rect x="543.90" y="169.50" width="3.00" height="2.55" fill="#9fff00"/><rect x="546.85" y="169.50" width="3.00" height="2.55" fill="#91ff00"/><rect x="549.80" y="169.50" width="3.00" height="2.55" fill="#82ff00"/><rect x="552.75" y="169.50" width="3.00" height="2.55" fill="#74ff00"/><rect x="555.70" y="169.50" width="3.00" height="2.55" fill="#67ff00"/><rect x="558.65" y="169.50" width="3.00" height="2.55" fill="#58ff00"/><rect x="561.60" y="169.50" width="3.00" height="2.55" fill="#46ff00"/><rect x="564.55" y="169.50" width="3.00" height="2.55" fill="#33ff00"/><rect x="567.50" y="169.50" width="3.00" height="2.55" fill="#25ff03"/><rect x="570.45" y="169.50" width="3.00" height="2.55" fill="#19ff0f"/><rect x="573.40" y="169.50" width="3.00" height="2.55" fill="#0dff1b"/><rect x="576.35" y="169.50" width="3.00" height="2.55" fill="#00ff32"/><rect x="579.30" y="169.50" width="3.00" height="2.55" fill="#00ff64"/><rect x="582.25" y="169.50" width="3.00" height="2.55" fill="#00fca6"/><rect x="585.20" y="169.50" width="3.00" height="2.55" fill="#00eeed"/><rect x="588.15" y="169.50" width="3.00" height="2.55" fill="#00c1ff"/><rect x="591.10" y="169.50" width="3.00" height="2.55" fill="#0087ff"/><rect x="594.05" y="169.50" width="3.00" height="2.55" fill="#0048ff"/><rect x="597.00" y="169.50" width="3.00" height="2.55" fill="#002cff"/><rect x="599.95" y="169.50" width="3.00" height="2.55" fill="#001cff"/><rect x="420.00" y="172.00" width="3.00" height="2.55" fill="#0022ff"/><rect x="422.95" y="172.00" width="3.00" height="2.55" fill="#0029ff"/><rect x="425.90" y="172.00" width="3.00" height="2.55" fill="#0037ff"/><rect x="428.85" y="172.00" width="3.00" height="2.55" fill="#0040ff"/><rect x="431.80" y="172.00" width="3.00" height="2.55" fill="#0041ff"/><rect x="434.75" y="172.00" width="3.00" height="2.55" fill="#002aff"/><rect x="437.70" y="172.00" width="3.00" height="2.55" fill="#0025ff"/><rect x="440.65" y="172.00" width="3.00" height="2.55" fill="#0023ff"/><rect x="443.60" y="172.00" width="3.00" height="2.55" fill="#0024ff"/><rect x="446.55" y="172.00" width="3.00" height="2.55" fill="#0023ff"/><rect x="449.50" y="172.00" width="3.00" height="2.55" fill="#0027ff"/><rect x="452.45" y="172.00" width="3.00" height="2.55" fill="#003bff"/><rect x="455.40" y="172.00" width="3.00" height="2.55" fill="#0061ff"/><rect x="458.35" y="172.00" width="3.00" height="2.55" fill="#008bff"/><rect x="461.30" y="172.00" width="3.00" height="2.55" fill="#00a2ff"/><rect x="464.25" y="172.00" width="3.00" height="2.55" fill="#00a9ff"/><rect x="467.20" y="172.00" width="3.00" height="2.55" fill="#00b2ff"/><rect x="470.15" y="172.00" width="3.00" height="2.55" fill="#00bfff"/><rect x="473.10" y="172.00" width="3.00" height="2.55" fill="#00dcff"/><rect x="476.05" y="172.00" width="3.00" height="2.55" fill="#00efea"/><rect x="479.00" y="172.00" width="3.00" height="2.55" fill="#00f8bd"/><rect x="481.95" y="172.00" width="3.00" height="2.55" fill="#00ff80"/><rect x="484.90" y="172.00" width="3.00" height="2.55" fill="#00ff46"/><rect x="487.85" y="172.00" width="3.00" height="2.55" fill="#0eff1a"/><rect x="490.80" y="172.00" width="3.00" height="2.55" fill="#2eff00"/><rect x="493.75" y="172.00" width="3.00" height="2.55" fill="#57ff00"/><rect x="496.70" y="172.00" width="3.00" height="2.55" fill="#88ff00"/><rect x="499.65" y="172.00" width="3.00" height="2.55" fill="#d0ff00"/><rect x="502.60" y="172.00" width="3.00" height="2.55" fill="#ffe700"/><rect x="505.55" y="172.00" width="3.00" height="2.55" fill="#ffaa00"/><rect x="508.50" y="172.00" width="3.00" height="2.55" fill="#ff8000"/><rect x="511.45" y="172.00" width="3.00" height="2.55" fill="#ff5c00"/><rect x="514.40" y="172.00" width="3.00" height="2.55" fill="#ff5300"/><rect x="517.35" y="172.00" width="3.00" height="2.55" fill="#ff6400"/><rect x="520.30" y="172.00" width="3.00" height="2.55" fill="#ff8200"/><rect x="523.25" y="172.00" width="3.00" height="2.55" fill="#ffab00"/><rect x="526.20" y="172.00" width="3.00" height="2.55" fill="#ffcb00"/><rect x="529.15" y="172.00" width="3.00" height="2.55" fill="#ffee00"/><rect x="532.10" y="172.00" width="3.00" height="2.55" fill="#f4ff00"/><rect x="535.05" y="172.00" width="3.00" height="2.55" fill="#e2ff00"/><rect x="538.00" y="172.00" width="3.00" height="2.55" fill="#cdff00"/><rect x="540.95" y="172.00" width="3.00" height="2.55" fill="#b3ff00"/><rect x="543.90" y="172.00" width="3.00" height="2.55" fill="#93ff00"/><rect x="546.85" y="172.00" width="3.00" height="2.55" fill="#80ff00"/><rect x="549.80" y="172.00" width="3.00" height="2.55" fill="#6cff00"/><rect x="552.75" y="172.00" width="3.00" height="2.55" fill="#5bff00"/><rect x="555.70" y="172.00" width="3.00" height="2.55" fill="#4bff00"/><rect x="558.65" y="172.00" width="3.00" height="2.55" fill="#3aff00"/><rect x="561.60" y="172.00" width="3.00" height="2.55" fill="#24ff04"/><rect x="564.55" y="172.00" width="3.00" height="2.55" fill="#14ff14"/><rect x="567.50" y="172.00" width="3.00" height="2.55" fill="#07ff21"/><rect x="570.45" y="172.00" width="3.00" height="2.55" fill="#00ff36"/><rect x="573.40" y="172.00" width="3.00" height="2.55" fill="#00ff57"/><rect x="576.35" y="172.00" width="3.00" height="2.55" fill="#00ff82"/><rect x="579.30" y="172.00" width="3.00" height="2.55" fill="#00f9b6"/><rect x="582.25" y="172.00" width="3.00" height="2.55" fill="#00eaff"/><rect x="585.20" y="172.00" width="3.00" height="2.55" fill="#00b1ff"/><rect x="588.15" y="172.00" width="3.00" height="2.55" fill="#006dff"/><rect x="591.10" y="172.00" width="3.00" height="2.55" fill="#003bff"/><rect x="594.05" y="172.00" width="3.00" height="2.55" fill="#0027ff"/><rect x="420.00" y="174.50" width="3.00" height="2.55" fill="#0031ff"/><rect x="422.95" y="174.50" width="3.00" height="2.55" fill="#003bff"/><rect x="425.90" y="174.50" width="3.00" height="2.55" fill="#004cff"/><rect x="428.85" y="174.50" width="3.00" height="2.55" fill="#0064ff"/><rect x="431.80" y="174.50" width="3.00" height="2.55" fill="#0068ff"/><rect x="434.75" y="174.50" width="3.00" height="2.55" fill="#0045ff"/><rect x="437.70" y="174.50" width="3.00" height="2.55" fill="#003aff"/><rect x="440.65" y="174.50" width="3.00" height="2.55" fill="#0034ff"/><rect x="443.60" y="174.50" width="3.00" height="2.55" fill="#002dff"/><rect x="446.55" y="174.50" width="3.00" height="2.55" fill="#0023ff"/><rect x="449.50" y="174.50" width="3.00" height="2.55" fill="#0022ff"/><rect x="452.45" y="174.50" width="3.00" height="2.55" fill="#0035ff"/><rect x="455.40" y="174.50" width="3.00" height="2.55" fill="#004aff"/><rect x="458.35" y="174.50" width="3.00" height="2.55" fill="#007fff"/><rect x="461.30" y="174.50" width="3.00" height="2.55" fill="#00b2ff"/><rect x="464.25" y="174.50" width="3.00" height="2.55" fill="#00c9ff"/><rect x="467.20" y="174.50" width="3.00" height="2.55" fill="#00dcff"/><rect x="470.15" y="174.50" width="3.00" height="2.55" fill="#00ecfa"/><rect x="473.10" y="174.50" width="3.00" height="2.55" fill="#00f5cc"/><rect x="476.05" y="174.50" width="3.00" height="2.55" fill="#00fe9c"/><rect x="479.00" y="174.50" width="3.00" height="2.55" fill="#00ff6b"/><rect x="481.95" y="174.50" width="3.00" height="2.55" fill="#00ff28"/><rect x="484.90" y="174.50" width="3.00" height="2.55" fill="#19ff0f"/><rect x="487.85" y="174.50" width="3.00" height="2.55" fill="#3aff00"/><rect x="490.80" y="174.50" width="3.00" height="2.55" fill="#68ff00"/><rect x="493.75" y="174.50" width="3.00" height="2.55" fill="#95ff00"/><rect x="496.70" y="174.50" width="3.00" height="2.55" fill="#dbff00"/><rect x="499.65" y="174.50" width="3.00" height="2.55" fill="#ffcc00"/><rect x="502.60" y="174.50" width="3.00" height="2.55" fill="#ff7400"/><rect x="505.55" y="174.50" width="3.00" height="2.55" fill="#ff3100"/><rect x="508.50" y="174.50" width="3.00" height="2.55" fill="#f91400"/><rect x="511.45" y="174.50" width="3.00" height="2.55" fill="#f10d00"/><rect x="514.40" y="174.50" width="3.00" height="2.55" fill="#f51100"/><rect x="517.35" y="174.50" width="3.00" height="2.55" fill="#ff1a00"/><rect x="520.30" y="174.50" width="3.00" height="2.55" fill="#ff4300"/><rect x="523.25" y="174.50" width="3.00" height="2.55" fill="#ff7600"/><rect x="526.20" y="174.50" width="3.00" height="2.55" fill="#ffaa00"/><rect x="529.15" y="174.50" width="3.00" height="2.55" fill="#ffdc00"/><rect x="532.10" y="174.50" width="3.00" height="2.55" fill="#fbff00"/><rect x="535.05" y="174.50" width="3.00" height="2.55" fill="#dfff00"/><rect x="538.00" y="174.50" width="3.00" height="2.55" fill="#c0ff00"/><rect x="540.95" y="174.50" width="3.00" height="2.55" fill="#99ff00"/><rect x="543.90" y="174.50" width="3.00" height="2.55" fill="#75ff00"/><rect x="546.85" y="174.50" width="3.00" height="2.55" fill="#5dff00"/><rect x="549.80" y="174.50" width="3.00" height="2.55" fill="#44ff00"/><rect x="552.75" y="174.50" width="3.00" height="2.55" fill="#31ff00"/><rect x="555.70" y="174.50" width="3.00" height="2.55" fill="#22ff06"/><rect x="558.65" y="174.50" width="3.00" height="2.55" fill="#13ff15"/><rect x="561.60" y="174.50" width="3.00" height="2.55" fill="#00ff2a"/><rect x="564.55" y="174.50" width="3.00" height="2.55" fill="#00ff59"/><rect x="567.50" y="174.50" width="3.00" height="2.55" fill="#00ff7a"/><rect x="570.45" y="174.50" width="3.00" height="2.55" fill="#00fe99"/><rect x="573.40" y="174.50" width="3.00" height="2.55" fill="#00f8bc"/><rect x="576.35" y="174.50" width="3.00" height="2.55" fill="#00f0e6"/><rect x="579.30" y="174.50" width="3.00" height="2.55" fill="#00d7ff"/><rect x="582.25" y="174.50" width="3.00" height="2.55" fill="#009dff"/><rect x="585.20" y="174.50" width="3.00" height="2.55" fill="#0059ff"/><rect x="588.15" y="174.50" width="3.00" height="2.55" fill="#0033ff"/><rect x="591.10" y="174.50" width="3.00" height="2.55" fill="#0022ff"/><rect x="420.00" y="177.00" width="3.00" height="2.55" fill="#0024ff"/><rect x="422.95" y="177.00" width="3.00" height="2.55" fill="#002bff"/><rect x="425.90" y="177.00" width="3.00" height="2.55" fill="#003fff"/><rect x="428.85" y="177.00" width="3.00" height="2.55" fill="#0052ff"/><rect x="431.80" y="177.00" width="3.00" height="2.55" fill="#0056ff"/><rect x="434.75" y="177.00" width="3.00" height="2.55" fill="#004fff"/><rect x="437.70" y="177.00" width="3.00" height="2.55" fill="#003eff"/><rect x="440.65" y="177.00" width="3.00" height="2.55" fill="#0031ff"/><rect x="443.60" y="177.00" width="3.00" height="2.55" fill="#0020ff"/><rect x="446.55" y="177.00" width="3.00" height="2.55" fill="#0018ff"/><rect x="449.50" y="177.00" width="3.00" height="2.55" fill="#0016ff"/><rect x="452.45" y="177.00" width="3.00" height="2.55" fill="#0023ff"/><rect x="455.40" y="177.00" width="3.00" height="2.55" fill="#002eff"/><rect x="458.35" y="177.00" width="3.00" height="2.55" fill="#004cff"/><rect x="461.30" y="177.00" width="3.00" height="2.55" fill="#009eff"/><rect x="464.25" y="177.00" width="3.00" height="2.55" fill="#00cdff"/><rect x="467.20" y="177.00" width="3.00" height="2.55" fill="#00ebfd"/><rect x="470.15" y="177.00" width="3.00" height="2.55" fill="#00f2db"/><rect x="473.10" y="177.00" width="3.00" height="2.55" fill="#00fca8"/><rect x="476.05" y="177.00" width="3.00" height="2.55" fill="#00ff77"/><rect x="479.00" y="177.00" width="3.00" height="2.55" fill="#00ff44"/><rect x="481.95" y="177.00" width="3.00" height="2.55" fill="#0fff19"/><rect x="484.90" y="177.00" width="3.00" height="2.55" fill="#28ff00"/><rect x="487.85" y="177.00" width="3.00" height="2.55" fill="#4dff00"/><rect x="490.80" y="177.00" width="3.00" height="2.55" fill="#79ff00"/><rect x="493.75" y="177.00" width="3.00" height="2.55" fill="#a8ff00"/><rect x="496.70" y="177.00" width="3.00" height="2.55" fill="#eaff00"/><rect x="499.65" y="177.00" width="3.00" height="2.55" fill="#ffbe00"/><rect x="502.60" y="177.00" width="3.00" height="2.55" fill="#ff6300"/><rect x="505.55" y="177.00" width="3.00" height="2.55" fill="#ff2300"/><rect x="508.50" y="177.00" width="3.00" height="2.55" fill="#f41000"/><rect x="511.45" y="177.00" width="3.00" height="2.55" fill="#ec0900"/><rect x="514.40" y="177.00" width="3.00" height="2.55" fill="#f10e00"/><rect x="517.35" y="177.00" width="3.00" height="2.55" fill="#fd1700"/><rect x="520.30" y="177.00" width="3.00" height="2.55" fill="#ff3e00"/><rect x="523.25" y="177.00" width="3.00" height="2.55" fill="#ff7400"/><rect x="526.20" y="177.00" width="3.00" height="2.55" fill="#ffb500"/><rect x="529.15" y="177.00" width="3.00" height="2.55" fill="#fff500"/><rect x="532.10" y="177.00" width="3.00" height="2.55" fill="#d9ff00"/><rect x="535.05" y="177.00" width="3.00" height="2.55" fill="#b6ff00"/><rect x="538.00" y="177.00" width="3.00" height="2.55" fill="#94ff00"/><rect x="540.95" y="177.00" width="3.00" height="2.55" fill="#6fff00"/><rect x="543.90" y="177.00" width="3.00" height="2.55" fill="#48ff00"/><rect x="546.85" y="177.00" width="3.00" height="2.55" fill="#2cff00"/><rect x="549.80" y="177.00" width="3.00" height="2.55" fill="#17ff11"/><rect x="552.75" y="177.00" width="3.00" height="2.55" fill="#08ff20"/><rect x="555.70" y="177.00" width="3.00" height="2.55" fill="#00ff39"/><rect x="558.65" y="177.00" width="3.00" height="2.55" fill="#00ff60"/><rect x="561.60" y="177.00" width="3.00" height="2.55" fill="#00ff96"/><rect x="564.55" y="177.00" width="3.00" height="2.55" fill="#00f5ca"/><rect x="567.50" y="177.00" width="3.00" height="2.55" fill="#00efea"/><rect x="570.45" y="177.00" width="3.00" height="2.55" fill="#00e3ff"/><rect x="573.40" y="177.00" width="3.00" height="2.55" fill="#00cbff"/><rect x="576.35" y="177.00" width="3.00" height="2.55" fill="#00afff"/><rect x="579.30" y="177.00" width="3.00" height="2.55" fill="#0085ff"/><rect x="582.25" y="177.00" width="3.00" height="2.55" fill="#0046ff"/><rect x="585.20" y="177.00" width="3.00" height="2.55" fill="#002eff"/><rect x="420.00" y="179.50" width="3.00" height="2.55" fill="#0011ff"/><rect x="422.95" y="179.50" width="3.00" height="2.55" fill="#0013ff"/><rect x="425.90" y="179.50" width="3.00" height="2.55" fill="#002aff"/><rect x="428.85" y="179.50" width="3.00" height="2.55" fill="#0030ff"/><rect x="431.80" y="179.50" width="3.00" height="2.55" fill="#0031ff"/><rect x="434.75" y="179.50" width="3.00" height="2.55" fill="#0032ff"/><rect x="437.70" y="179.50" width="3.00" height="2.55" fill="#002cff"/><rect x="440.65" y="179.50" width="3.00" height="2.55" fill="#001eff"/><rect x="443.60" y="179.50" width="3.00" height="2.55" fill="#0010ff"/><rect x="446.55" y="179.50" width="5.95" height="2.55" fill="#000eff"/><rect x="452.45" y="179.50" width="3.00" height="2.55" fill="#0014ff"/><rect x="455.40" y="179.50" width="3.00" height="2.55" fill="#001aff"/><rect x="458.35" y="179.50" width="3.00" height="2.55" fill="#002bff"/><rect x="461.30" y="179.50" width="3.00" height="2.55" fill="#0064ff"/><rect x="464.25" y="179.50" width="3.00" height="2.55" fill="#00b4ff"/><rect x="467.20" y="179.50" width="3.00" height="2.55" fill="#00deff"/><rect x="470.15" y="179.50" width="3.00" height="2.55" fill="#00f0e4"/><rect x="473.10" y="179.50" width="3.00" height="2.55" fill="#00fab1"/><rect x="476.05" y="179.50" width="3.00" height="2.55" fill="#00ff7f"/><rect x="479.00" y="179.50" width="3.00" height="2.55" fill="#00ff50"/><rect x="481.95" y="179.50" width="3.00" height="2.55" fill="#08ff20"/><rect x="484.90" y="179.50" width="3.00" height="2.55" fill="#1dff0b"/><rect x="487.85" y="179.50" width="3.00" height="2.55" fill="#3bff00"/><rect x="490.80" y="179.50" width="3.00" height="2.55" fill="#61ff00"/><rect x="493.75" y="179.50" width="3.00" height="2.55" fill="#86ff00"/><rect x="496.70" y="179.50" width="3.00" height="2.55" fill="#bbff00"/><rect x="499.65" y="179.50" width="3.00" height="2.55" fill="#fff700"/><rect x="502.60" y="179.50" width="3.00" height="2.55" fill="#ffa800"/><rect x="505.55" y="179.50" width="3.00" height="2.55" fill="#ff6100"/><rect x="508.50" y="179.50" width="3.00" height="2.55" fill="#ff3b00"/><rect x="511.45" y="179.50" width="3.00" height="2.55" fill="#ff2500"/><rect x="514.40" y="179.50" width="3.00" height="2.55" fill="#ff3400"/><rect x="517.35" y="179.50" width="3.00" height="2.55" fill="#ff5100"/><rect x="520.30" y="179.50" width="3.00" height="2.55" fill="#ff8000"/><rect x="523.25" y="179.50" width="3.00" height="2.55" fill="#ffb700"/><rect x="526.20" y="179.50" width="3.00" height="2.55" fill="#fffc00"/><rect x="529.15" y="179.50" width="3.00" height="2.55" fill="#bdff00"/><rect x="532.10" y="179.50" width="3.00" height="2.55" fill="#91ff00"/><rect x="535.05" y="179.50" width="3.00" height="2.55" fill="#77ff00"/><rect x="538.00" y="179.50" width="3.00" height="2.55" fill="#5eff00"/><rect x="540.95" y="179.50" width="3.00" height="2.55" fill="#39ff00"/><rect x="543.90" y="179.50" width="3.00" height="2.55" fill="#18ff10"/><rect x="546.85" y="179.50" width="3.00" height="2.55" fill="#01ff27"/><rect x="549.80" y="179.50" width="3.00" height="2.55" fill="#00ff5d"/><rect x="552.75" y="179.50" width="3.00" height="2.55" fill="#00ff83"/><rect x="555.70" y="179.50" width="3.00" height="2.55" fill="#00fba9"/><rect x="558.65" y="179.50" width="3.00" height="2.55" fill="#00f4d1"/><rect x="561.60" y="179.50" width="3.00" height="2.55" fill="#00e3ff"/><rect x="564.55" y="179.50" width="3.00" height="2.55" fill="#00beff"/><rect x="567.50" y="179.50" width="3.00" height="2.55" fill="#00a9ff"/><rect x="570.45" y="179.50" width="3.00" height="2.55" fill="#008eff"/><rect x="573.40" y="179.50" width="3.00" height="2.55" fill="#0073ff"/><rect x="576.35" y="179.50" width="3.00" height="2.55" fill="#0057ff"/><rect x="579.30" y="179.50" width="3.00" height="2.55" fill="#003cff"/><rect x="425.90" y="182.00" width="3.00" height="2.55" fill="#0017ff"/><rect x="428.85" y="182.00" width="3.00" height="2.55" fill="#0019ff"/><rect x="431.80" y="182.00" width="5.95" height="2.55" fill="#001aff"/><rect x="437.70" y="182.00" width="3.00" height="2.55" fill="#0018ff"/><rect x="440.65" y="182.00" width="3.00" height="2.55" fill="#0010ff"/><rect x="452.45" y="182.00" width="3.00" height="2.55" fill="#000dff"/><rect x="455.40" y="182.00" width="3.00" height="2.55" fill="#000fff"/><rect x="458.35" y="182.00" width="3.00" height="2.55" fill="#0018ff"/><rect x="461.30" y="182.00" width="3.00" height="2.55" fill="#0034ff"/><rect x="464.25" y="182.00" width="3.00" height="2.55" fill="#007aff"/><rect x="467.20" y="182.00" width="3.00" height="2.55" fill="#00b6ff"/><rect x="470.15" y="182.00" width="3.00" height="2.55" fill="#00ddff"/><rect x="473.10" y="182.00" width="3.00" height="2.55" fill="#00f0e3"/><rect x="476.05" y="182.00" width="3.00" height="2.55" fill="#00f9b6"/><rect x="479.00" y="182.00" width="3.00" height="2.55" fill="#00ff8b"/><rect x="481.95" y="182.00" width="3.00" height="2.55" fill="#00ff5a"/><rect x="484.90" y="182.00" width="3.00" height="2.55" fill="#00ff2b"/><rect x="487.85" y="182.00" width="3.00" height="2.55" fill="#13ff15"/><rect x="490.80" y="182.00" width="3.00" height="2.55" fill="#2cff00"/><rect x="493.75" y="182.00" width="3.00" height="2.55" fill="#49ff00"/><rect x="496.70" y="182.00" width="3.00" height="2.55" fill="#6cff00"/><rect x="499.65" y="182.00" width="3.00" height="2.55" fill="#9fff00"/><rect x="502.60" y="182.00" width="3.00" height="2.55" fill="#dfff00"/><rect x="505.55" y="182.00" width="3.00" height="2.55" fill="#ffe800"/><rect x="508.50" y="182.00" width="3.00" height="2.55" fill="#ffc500"/><rect x="511.45" y="182.00" width="3.00" height="2.55" fill="#ffb000"/><rect x="514.40" y="182.00" width="3.00" height="2.55" fill="#ffbd00"/><rect x="517.35" y="182.00" width="3.00" height="2.55" fill="#ffd900"/><rect x="520.30" y="182.00" width="3.00" height="2.55" fill="#ffff00"/><rect x="523.25" y="182.00" width="3.00" height="2.55" fill="#d3ff00"/><rect x="526.20" y="182.00" width="3.00" height="2.55" fill="#93ff00"/><rect x="529.15" y="182.00" width="3.00" height="2.55" fill="#61ff00"/><rect x="532.10" y="182.00" width="3.00" height="2.55" fill="#45ff00"/><rect x="535.05" y="182.00" width="3.00" height="2.55" fill="#31ff00"/><rect x="538.00" y="182.00" width="3.00" height="2.55" fill="#21ff07"/><rect x="540.95" y="182.00" width="3.00" height="2.55" fill="#07ff21"/><rect x="543.90" y="182.00" width="3.00" height="2.55" fill="#00ff5b"/><rect x="546.85" y="182.00" width="3.00" height="2.55" fill="#00ff97"/><rect x="549.80" y="182.00" width="3.00" height="2.55" fill="#00f4cf"/><rect x="552.75" y="182.00" width="3.00" height="2.55" fill="#00edf5"/><rect x="555.70" y="182.00" width="3.00" height="2.55" fill="#00d6ff"/><rect x="558.65" y="182.00" width="3.00" height="2.55" fill="#00bbff"/><rect x="561.60" y="182.00" width="3.00" height="2.55" fill="#008eff"/><rect x="564.55" y="182.00" width="3.00" height="2.55" fill="#0066ff"/><rect x="567.50" y="182.00" width="3.00" height="2.55" fill="#004fff"/><rect x="570.45" y="182.00" width="3.00" height="2.55" fill="#003eff"/><rect x="573.40" y="182.00" width="3.00" height="2.55" fill="#0036ff"/><rect x="425.90" y="184.50" width="11.85" height="2.55" fill="#000eff"/><rect x="437.70" y="184.50" width="3.00" height="2.55" fill="#000dff"/><rect x="458.35" y="184.50" width="3.00" height="2.55" fill="#000fff"/><rect x="461.30" y="184.50" width="3.00" height="2.55" fill="#001fff"/><rect x="464.25" y="184.50" width="3.00" height="2.55" fill="#003dff"/><rect x="467.20" y="184.50" width="3.00" height="2.55" fill="#0075ff"/><rect x="470.15" y="184.50" width="3.00" height="2.55" fill="#00a7ff"/><rect x="473.10" y="184.50" width="3.00" height="2.55" fill="#00c4ff"/><rect x="476.05" y="184.50" width="3.00" height="2.55" fill="#00e0ff"/><rect x="479.00" y="184.50" width="3.00" height="2.55" fill="#00efeb"/><rect x="481.95" y="184.50" width="3.00" height="2.55" fill="#00f7c3"/><rect x="484.90" y="184.50" width="3.00" height="2.55" fill="#00fe9c"/><rect x="487.85" y="184.50" width="3.00" height="2.55" fill="#00ff73"/><rect x="490.80" y="184.50" width="3.00" height="2.55" fill="#00ff44"/><rect x="493.75" y="184.50" width="3.00" height="2.55" fill="#06ff22"/><rect x="496.70" y="184.50" width="3.00" height="2.55" fill="#1aff0e"/><rect x="499.65" y="184.50" width="3.00" height="2.55" fill="#3aff00"/><rect x="502.60" y="184.50" width="3.00" height="2.55" fill="#61ff00"/><rect x="505.55" y="184.50" width="3.00" height="2.55" fill="#81ff00"/><rect x="508.50" y="184.50" width="3.00" height="2.55" fill="#97ff00"/><rect x="511.45" y="184.50" width="3.00" height="2.55" fill="#a7ff00"/><rect x="514.40" y="184.50" width="3.00" height="2.55" fill="#9eff00"/><rect x="517.35" y="184.50" width="3.00" height="2.55" fill="#8bff00"/><rect x="520.30" y="184.50" width="3.00" height="2.55" fill="#74ff00"/><rect x="523.25" y="184.50" width="3.00" height="2.55" fill="#59ff00"/><rect x="526.20" y="184.50" width="3.00" height="2.55" fill="#2fff00"/><rect x="529.15" y="184.50" width="3.00" height="2.55" fill="#0eff1a"/><rect x="532.10" y="184.50" width="3.00" height="2.55" fill="#01ff27"/><rect x="535.05" y="184.50" width="3.00" height="2.55" fill="#00ff3f"/><rect x="538.00" y="184.50" width="3.00" height="2.55" fill="#00ff57"/><rect x="540.95" y="184.50" width="3.00" height="2.55" fill="#00ff8e"/><rect x="543.90" y="184.50" width="3.00" height="2.55" fill="#00f4cd"/><rect x="546.85" y="184.50" width="3.00" height="2.55" fill="#00e3ff"/><rect x="549.80" y="184.50" width="3.00" height="2.55" fill="#00bdff"/><rect x="552.75" y="184.50" width="3.00" height="2.55" fill="#00a3ff"/><rect x="555.70" y="184.50" width="3.00" height="2.55" fill="#0083ff"/><rect x="558.65" y="184.50" width="3.00" height="2.55" fill="#0064ff"/><rect x="561.60" y="184.50" width="3.00" height="2.55" fill="#003fff"/><rect x="461.30" y="187.00" width="3.00" height="2.55" fill="#0012ff"/><rect x="464.25" y="187.00" width="3.00" height="2.55" fill="#0025ff"/><rect x="467.20" y="187.00" width="3.00" height="2.55" fill="#003aff"/><rect x="470.15" y="187.00" width="3.00" height="2.55" fill="#0059ff"/><rect x="473.10" y="187.00" width="3.00" height="2.55" fill="#0076ff"/><rect x="476.05" y="187.00" width="3.00" height="2.55" fill="#0091ff"/><rect x="479.00" y="187.00" width="3.00" height="2.55" fill="#00a9ff"/><rect x="481.95" y="187.00" width="3.00" height="2.55" fill="#00bfff"/><rect x="484.90" y="187.00" width="3.00" height="2.55" fill="#00d4ff"/><rect x="487.85" y="187.00" width="3.00" height="2.55" fill="#00ebfd"/><rect x="490.80" y="187.00" width="3.00" height="2.55" fill="#00f2da"/><rect x="493.75" y="187.00" width="3.00" height="2.55" fill="#00f9b8"/><rect x="496.70" y="187.00" width="3.00" height="2.55" fill="#00ff8f"/><rect x="499.65" y="187.00" width="3.00" height="2.55" fill="#00ff5c"/><rect x="502.60" y="187.00" width="3.00" height="2.55" fill="#01ff27"/><rect x="505.55" y="187.00" width="3.00" height="2.55" fill="#13ff15"/><rect x="508.50" y="187.00" width="3.00" height="2.55" fill="#1fff09"/><rect x="511.45" y="187.00" width="3.00" height="2.55" fill="#26ff02"/><rect x="514.40" y="187.00" width="3.00" height="2.55" fill="#22ff06"/><rect x="517.35" y="187.00" width="3.00" height="2.55" fill="#19ff0f"/><rect x="520.30" y="187.00" width="3.00" height="2.55" fill="#0cff1c"/><rect x="523.25" y="187.00" width="3.00" height="2.55" fill="#00ff2e"/><rect x="526.20" y="187.00" width="3.00" height="2.55" fill="#00ff72"/><rect x="529.15" y="187.00" width="3.00" height="2.55" fill="#00faaf"/><rect x="532.10" y="187.00" width="3.00" height="2.55" fill="#00f7c1"/><rect x="535.05" y="187.00" width="3.00" height="2.55" fill="#00f5cc"/><rect x="538.00" y="187.00" width="3.00" height="2.55" fill="#00f3d8"/><rect x="540.95" y="187.00" width="3.00" height="2.55" fill="#00e6ff"/><rect x="543.90" y="187.00" width="3.00" height="2.55" fill="#00bfff"/><rect x="546.85" y="187.00" width="3.00" height="2.55" fill="#0092ff"/><rect x="549.80" y="187.00" width="3.00" height="2.55" fill="#0068ff"/><rect x="552.75" y="187.00" width="3.00" height="2.55" fill="#004eff"/><rect x="464.25" y="189.50" width="3.00" height="2.55" fill="#0016ff"/><rect x="467.20" y="189.50" width="3.00" height="2.55" fill="#0023ff"/><rect x="470.15" y="189.50" width="3.00" height="2.55" fill="#0030ff"/><rect x="473.10" y="189.50" width="3.00" height="2.55" fill="#0037ff"/><rect x="476.05" y="189.50" width="3.00" height="2.55" fill="#003eff"/><rect x="479.00" y="189.50" width="3.00" height="2.55" fill="#004aff"/><rect x="481.95" y="189.50" width="3.00" height="2.55" fill="#005cff"/><rect x="484.90" y="189.50" width="3.00" height="2.55" fill="#006eff"/><rect x="487.85" y="189.50" width="3.00" height="2.55" fill="#0083ff"/><rect x="490.80" y="189.50" width="3.00" height="2.55" fill="#009dff"/><rect x="493.75" y="189.50" width="3.00" height="2.55" fill="#00b0ff"/><rect x="496.70" y="189.50" width="3.00" height="2.55" fill="#00c5ff"/><rect x="499.65" y="189.50" width="3.00" height="2.55" fill="#00e2ff"/><rect x="502.60" y="189.50" width="3.00" height="2.55" fill="#00f0e2"/><rect x="505.55" y="189.50" width="3.00" height="2.55" fill="#00f7c1"/><rect x="508.50" y="189.50" width="3.00" height="2.55" fill="#00fbaa"/><rect x="511.45" y="189.50" width="3.00" height="2.55" fill="#00fe9b"/><rect x="514.40" y="189.50" width="3.00" height="2.55" fill="#00fda2"/><rect x="517.35" y="189.50" width="3.00" height="2.55" fill="#00f9b5"/><rect x="520.30" y="189.50" width="3.00" height="2.55" fill="#00f4cd"/><rect x="523.25" y="189.50" width="3.00" height="2.55" fill="#00efe9"/><rect x="526.20" y="189.50" width="3.00" height="2.55" fill="#00d4ff"/><rect x="529.15" y="189.50" width="3.00" height="2.55" fill="#00b3ff"/><rect x="532.10" y="189.50" width="3.00" height="2.55" fill="#00b0ff"/><rect x="535.05" y="189.50" width="3.00" height="2.55" fill="#00b1ff"/><rect x="538.00" y="189.50" width="3.00" height="2.55" fill="#00b0ff"/><rect x="540.95" y="189.50" width="3.00" height="2.55" fill="#0092ff"/><rect x="543.90" y="189.50" width="3.00" height="2.55" fill="#006dff"/><rect x="464.25" y="192.00" width="3.00" height="2.55" fill="#000fff"/><rect x="467.20" y="192.00" width="3.00" height="2.55" fill="#0016ff"/><rect x="470.15" y="192.00" width="3.00" height="2.55" fill="#001dff"/><rect x="473.10" y="192.00" width="3.00" height="2.55" fill="#0021ff"/><rect x="476.05" y="192.00" width="3.00" height="2.55" fill="#0025ff"/><rect x="479.00" y="192.00" width="3.00" height="2.55" fill="#0028ff"/><rect x="481.95" y="192.00" width="3.00" height="2.55" fill="#002cff"/><rect x="484.90" y="192.00" width="3.00" height="2.55" fill="#0031ff"/><rect x="487.85" y="192.00" width="3.00" height="2.55" fill="#0036ff"/><rect x="490.80" y="192.00" width="3.00" height="2.55" fill="#003cff"/><rect x="493.75" y="192.00" width="3.00" height="2.55" fill="#0043ff"/><rect x="496.70" y="192.00" width="3.00" height="2.55" fill="#0053ff"/><rect x="499.65" y="192.00" width="3.00" height="2.55" fill="#006aff"/><rect x="502.60" y="192.00" width="3.00" height="2.55" fill="#0083ff"/><rect x="505.55" y="192.00" width="3.00" height="2.55" fill="#0099ff"/><rect x="508.50" y="192.00" width="3.00" height="2.55" fill="#00a8ff"/><rect x="511.45" y="192.00" width="3.00" height="2.55" fill="#00afff"/><rect x="514.40" y="192.00" width="3.00" height="2.55" fill="#00acff"/><rect x="517.35" y="192.00" width="3.00" height="2.55" fill="#00a2ff"/><rect x="520.30" y="192.00" width="3.00" height="2.55" fill="#0092ff"/><rect x="523.25" y="192.00" width="3.00" height="2.55" fill="#007fff"/><rect x="526.20" y="192.00" width="3.00" height="2.55" fill="#005eff"/><rect x="529.15" y="192.00" width="3.00" height="2.55" fill="#0046ff"/><rect x="532.10" y="192.00" width="3.00" height="2.55" fill="#004aff"/><rect x="535.05" y="192.00" width="3.00" height="2.55" fill="#0050ff"/><rect x="538.00" y="192.00" width="3.00" height="2.55" fill="#0056ff"/><rect x="470.15" y="194.50" width="3.00" height="2.55" fill="#0012ff"/><rect x="473.10" y="194.50" width="3.00" height="2.55" fill="#0014ff"/><rect x="476.05" y="194.50" width="3.00" height="2.55" fill="#0016ff"/><rect x="479.00" y="194.50" width="3.00" height="2.55" fill="#0017ff"/><rect x="481.95" y="194.50" width="3.00" height="2.55" fill="#001aff"/><rect x="484.90" y="194.50" width="3.00" height="2.55" fill="#001cff"/><rect x="487.85" y="194.50" width="3.00" height="2.55" fill="#001eff"/><rect x="490.80" y="194.50" width="3.00" height="2.55" fill="#0021ff"/><rect x="493.75" y="194.50" width="3.00" height="2.55" fill="#0024ff"/><rect x="496.70" y="194.50" width="3.00" height="2.55" fill="#0028ff"/><rect x="499.65" y="194.50" width="3.00" height="2.55" fill="#002dff"/><rect x="502.60" y="194.50" width="3.00" height="2.55" fill="#0032ff"/><rect x="505.55" y="194.50" width="3.00" height="2.55" fill="#0037ff"/><rect x="508.50" y="194.50" width="3.00" height="2.55" fill="#003bff"/><rect x="511.45" y="194.50" width="3.00" height="2.55" fill="#003dff"/><rect x="514.40" y="194.50" width="3.00" height="2.55" fill="#003cff"/><rect x="517.35" y="194.50" width="3.00" height="2.55" fill="#0039ff"/><rect x="520.30" y="194.50" width="3.00" height="2.55" fill="#0036ff"/><rect x="523.25" y="194.50" width="3.00" height="2.55" fill="#0032ff"/></g>
<path d="M414.30 273.3V270.1M414.30 64.6V67.6 M426.26 273.3V270.1M426.26 64.6V67.6 M438.22 273.3V270.1M438.22 64.6V67.6 M450.18 273.3V270.1M450.18 64.6V67.6 M462.14 273.3V270.1M462.14 64.6V67.6 M474.10 273.3V270.1M474.10 64.6V67.6 M486.06 273.3V270.1M486.06 64.6V67.6 M498.02 273.3V270.1M498.02 64.6V67.6 M509.98 273.3V270.1M509.98 64.6V67.6 M521.94 273.3V270.1M521.94 64.6V67.6 M533.90 273.3V270.1M533.90 64.6V67.6 M545.86 273.3V270.1M545.86 64.6V67.6 M557.82 273.3V270.1M557.82 64.6V67.6 M569.78 273.3V270.1M569.78 64.6V67.6 M581.74 273.3V270.1M581.74 64.6V67.6 M593.70 273.3V270.1M593.70 64.6V67.6 M605.66 273.3V270.1M605.66 64.6V67.6 M617.62 273.3V270.1M617.62 64.6V67.6 M410.9 270.44H414.29999999999995M630.4 270.44H623.4 M410.9 258.50H414.29999999999995M630.4 258.50H623.4 M410.9 246.56H414.29999999999995M630.4 246.56H623.4 M410.9 234.62H414.29999999999995M630.4 234.62H623.4 M410.9 222.68H414.29999999999995M630.4 222.68H623.4 M410.9 210.74H414.29999999999995M630.4 210.74H623.4 M410.9 198.80H414.29999999999995M630.4 198.80H623.4 M410.9 186.86H414.29999999999995M630.4 186.86H623.4 M410.9 174.92H414.29999999999995M630.4 174.92H623.4 M410.9 162.98H414.29999999999995M630.4 162.98H623.4 M410.9 151.04H414.29999999999995M630.4 151.04H623.4 M410.9 139.10H414.29999999999995M630.4 139.10H623.4 M410.9 127.16H414.29999999999995M630.4 127.16H623.4 M410.9 115.22H414.29999999999995M630.4 115.22H623.4 M410.9 103.28H414.29999999999995M630.4 103.28H623.4 M410.9 91.34H414.29999999999995M630.4 91.34H623.4 M410.9 79.40H414.29999999999995M630.4 79.40H623.4 M410.9 67.46H414.29999999999995M630.4 67.46H623.4" stroke="#000" stroke-width="1.1" fill="none"/>
<text class="cy" x="419.3" y="85.7" font-size="8.25" fill="#14d8d8">SINS-zC-SINF-KMOS<tspan font-size="5.8" dy="-3.6">3D</tspan></text>
<text class="cy" x="419.3" y="95.2" font-size="8.25" fill="#14d8d8">z=0.6-2.6 'full sample' + Moster18</text>
<g stroke="#1ee61e" stroke-width="1.15" fill="none">
<circle cx="450.2" cy="167.5" r="4.3"/><path d="M445.90 167.5h8.6M450.2 163.20v8.6"/>
<circle cx="484.7" cy="188.3" r="4.3"/><path d="M480.40 188.3h8.6M484.7 184.00v8.6"/>
<circle cx="486.6" cy="154.4" r="4.3"/><path d="M482.30 154.4h8.6M486.6 150.10v8.6"/>
<circle cx="498.2" cy="190.9" r="4.3"/><path d="M493.90 190.9h8.6M498.2 186.60v8.6"/>
<circle cx="504.4" cy="230.0" r="4.3"/><path d="M500.10 230.0h8.6M504.4 225.70v8.6"/>
<circle cx="508.9" cy="160.8" r="4.3"/><path d="M504.60 160.8h8.6M508.9 156.50v8.6"/>
<circle cx="527.7" cy="194.0" r="4.3"/><path d="M523.40 194.0h8.6M527.7 189.70v8.6"/>
<circle cx="537.8" cy="191.9" r="4.3"/><path d="M533.50 191.9h8.6M537.8 187.60v8.6"/>
<circle cx="542.1" cy="203.5" r="4.3"/><path d="M537.80 203.5h8.6M542.1 199.20v8.6"/>
<circle cx="545.4" cy="195.4" r="4.3"/><path d="M541.10 195.4h8.6M545.4 191.10v8.6"/>
<circle cx="546.7" cy="212.2" r="4.3"/><path d="M542.40 212.2h8.6M546.7 207.90v8.6"/>
<circle cx="549.3" cy="244.9" r="4.3"/><path d="M545.00 244.9h8.6M549.3 240.60v8.6"/>
<circle cx="551.0" cy="186.0" r="4.3"/><path d="M546.70 186.0h8.6M551.0 181.70v8.6"/>
<circle cx="554.3" cy="198.8" r="4.3"/><path d="M550.00 198.8h8.6M554.3 194.50v8.6"/>
<circle cx="558.7" cy="209.9" r="4.3"/><path d="M554.40 209.9h8.6M558.7 205.60v8.6"/>
<circle cx="558.8" cy="185.0" r="4.3"/><path d="M554.50 185.0h8.6M558.8 180.70v8.6"/>
<circle cx="562.0" cy="186.0" r="4.3"/><path d="M557.70 186.0h8.6M562.0 181.70v8.6"/>
<circle cx="566.1" cy="203.2" r="4.3"/><path d="M561.80 203.2h8.6M566.1 198.90v8.6"/>
<circle cx="566.0" cy="188.5" r="4.3"/><path d="M561.70 188.5h8.6M566.0 184.20v8.6"/>
<circle cx="569.6" cy="188.5" r="4.3"/><path d="M565.30 188.5h8.6M569.6 184.20v8.6"/>
<circle cx="569.3" cy="184.0" r="4.3"/><path d="M565.00 184.0h8.6M569.3 179.70v8.6"/>
<circle cx="572.6" cy="232.0" r="4.3"/><path d="M568.30 232.0h8.6M572.6 227.70v8.6"/>
<circle cx="577.3" cy="194.4" r="4.3"/><path d="M573.00 194.4h8.6M577.3 190.10v8.6"/>
<circle cx="586.4" cy="225.6" r="4.3"/><path d="M582.10 225.6h8.6M586.4 221.30v8.6"/>
<circle cx="587.4" cy="217.7" r="4.3"/><path d="M583.10 217.7h8.6M587.4 213.40v8.6"/>
<circle cx="587.1" cy="180.2" r="4.3"/><path d="M582.80 180.2h8.6M587.1 175.90v8.6"/>
<circle cx="590.0" cy="196.3" r="4.3"/><path d="M585.70 196.3h8.6M590.0 192.00v8.6"/>
<circle cx="590.9" cy="220.5" r="4.3"/><path d="M586.60 220.5h8.6M590.9 216.20v8.6"/>
<circle cx="594.4" cy="179.8" r="4.3"/><path d="M590.10 179.8h8.6M594.4 175.50v8.6"/>
<circle cx="596.3" cy="227.5" r="4.3"/><path d="M592.00 227.5h8.6M596.3 223.20v8.6"/>
<circle cx="601.7" cy="196.8" r="4.3"/><path d="M597.40 196.8h8.6M601.7 192.50v8.6"/>
<circle cx="561.7" cy="185.5" r="4.3"/><path d="M557.40 185.5h8.6M561.7 181.20v8.6"/>
</g>
<g fill="#8b0000">
<path d="M450.2 162.7l5 9.7h-10z"/>
<path d="M484.7 182.2l5 9.7h-10z"/>
<path d="M486.6 149.3l5 9.7h-10z"/>
<path d="M498.2 186.0l5 9.7h-10z"/>
<path d="M504.4 215.8l5 9.7h-10z"/>
<path d="M508.9 155.7l5 9.7h-10z"/>
<path d="M527.7 184.4l5 9.7h-10z"/>
<path d="M538.3 180.3l5 9.7h-10z"/>
<path d="M542.6 169.0l5 9.7h-10z"/>
<path d="M545.6 180.7l5 9.7h-10z"/>
<path d="M547.0 197.2l5 9.7h-10z"/>
<path d="M549.2 176.3l5 9.7h-10z"/>
<path d="M551.1 162.1l5 9.7h-10z"/>
<path d="M555.9 156.2l5 9.7h-10z"/>
<path d="M559.3 196.8l5 9.7h-10z"/>
<path d="M558.6 166.9l5 9.7h-10z"/>
<path d="M562.5 175.3l5 9.7h-10z"/>
<path d="M562.9 155.1l5 9.7h-10z"/>
<path d="M564.3 154.4l5 9.7h-10z"/>
<path d="M563.7 166.0l5 9.7h-10z"/>
<path d="M567.3 167.8l5 9.7h-10z"/>
<path d="M572.2 160.5l5 9.7h-10z"/>
<path d="M572.7 141.9l5 9.7h-10z"/>
<path d="M575.2 147.7l5 9.7h-10z"/>
<path d="M575.9 155.7l5 9.7h-10z"/>
<path d="M575.9 172.1l5 9.7h-10z"/>
<path d="M577.6 139.7l5 9.7h-10z"/>
<path d="M572.7 183.5l5 9.7h-10z"/>
<path d="M577.6 172.5l5 9.7h-10z"/>
<path d="M586.7 151.6l5 9.7h-10z"/>
<path d="M587.9 135.8l5 9.7h-10z"/>
<path d="M589.3 162.4l5 9.7h-10z"/>
<path d="M589.8 163.9l5 9.7h-10z"/>
<path d="M596.5 147.4l5 9.7h-10z"/>
<path d="M602.0 147.4l5 9.7h-10z"/>
<path d="M594.6 155.8l5 9.7h-10z"/>
<path d="M576.2 149.9l5 9.7h-10z"/>
<path d="M570.7 151.1l5 9.7h-10z"/>
<path d="M578.7 154.8l5 9.7h-10z"/>
<path d="M573.8 155.4l5 9.7h-10z"/>
<path d="M555.0 156.3l5 9.7h-10z"/>
<path d="M570.2 169.4l5 9.7h-10z"/>
<path d="M562.9 174.9l5 9.7h-10z"/>
<path d="M557.4 167.6l5 9.7h-10z"/>
<path d="M549.5 178.1l5 9.7h-10z"/>
<path d="M545.8 180.2l5 9.7h-10z"/>
</g>
<g font-size="11.7" fill="#111">
<text x="392.9" y="83.5">10</text>
<text x="399.4" y="143.2">9</text>
<text x="399.4" y="202.9">8</text>
<text x="399.4" y="262.6">7</text>
<text text-anchor="middle" x="414.2" y="287.8">8</text>
<text text-anchor="middle" x="474.1" y="287.8">9</text>
<text text-anchor="middle" x="534.2" y="287.8">10</text>
<text text-anchor="middle" x="593.6" y="287.8">11</text>
</g>
<text class="bi" x="471.0" y="314.5" font-size="13" fill="#000">log M<tspan font-size="9.2" dy="5.4">bulge</tspan><tspan dy="-5.4"> (M</tspan><tspan font-size="9.2" dy="5.4">sun</tspan><tspan dy="-5.4">)</tspan></text>
<text class="bi" transform="translate(369.6,244.6) rotate(-90)" font-size="13.2" fill="#000"><tspan x="-0.6">log (</tspan><tspan x="29.2" font-size="14.5">Σ</tspan><tspan x="38.6" font-size="9.4" dy="4.6">DM</tspan><tspan x="49.2" dy="-4.6">(R</tspan><tspan x="64.0" font-size="7.5" dy="3.8">e</tspan><tspan x="68.3" dy="-3.8">))</tspan><tspan x="85.0">(M</tspan><tspan x="102.6" font-size="8.8" dy="4.6">sun</tspan><tspan x="117.2" dy="-4.6">kpc</tspan><tspan x="136.6" font-size="9.4" dy="-7.2">-2</tspan><tspan x="145.6" dy="7.2">)</tspan></text>
</svg></body></html>
